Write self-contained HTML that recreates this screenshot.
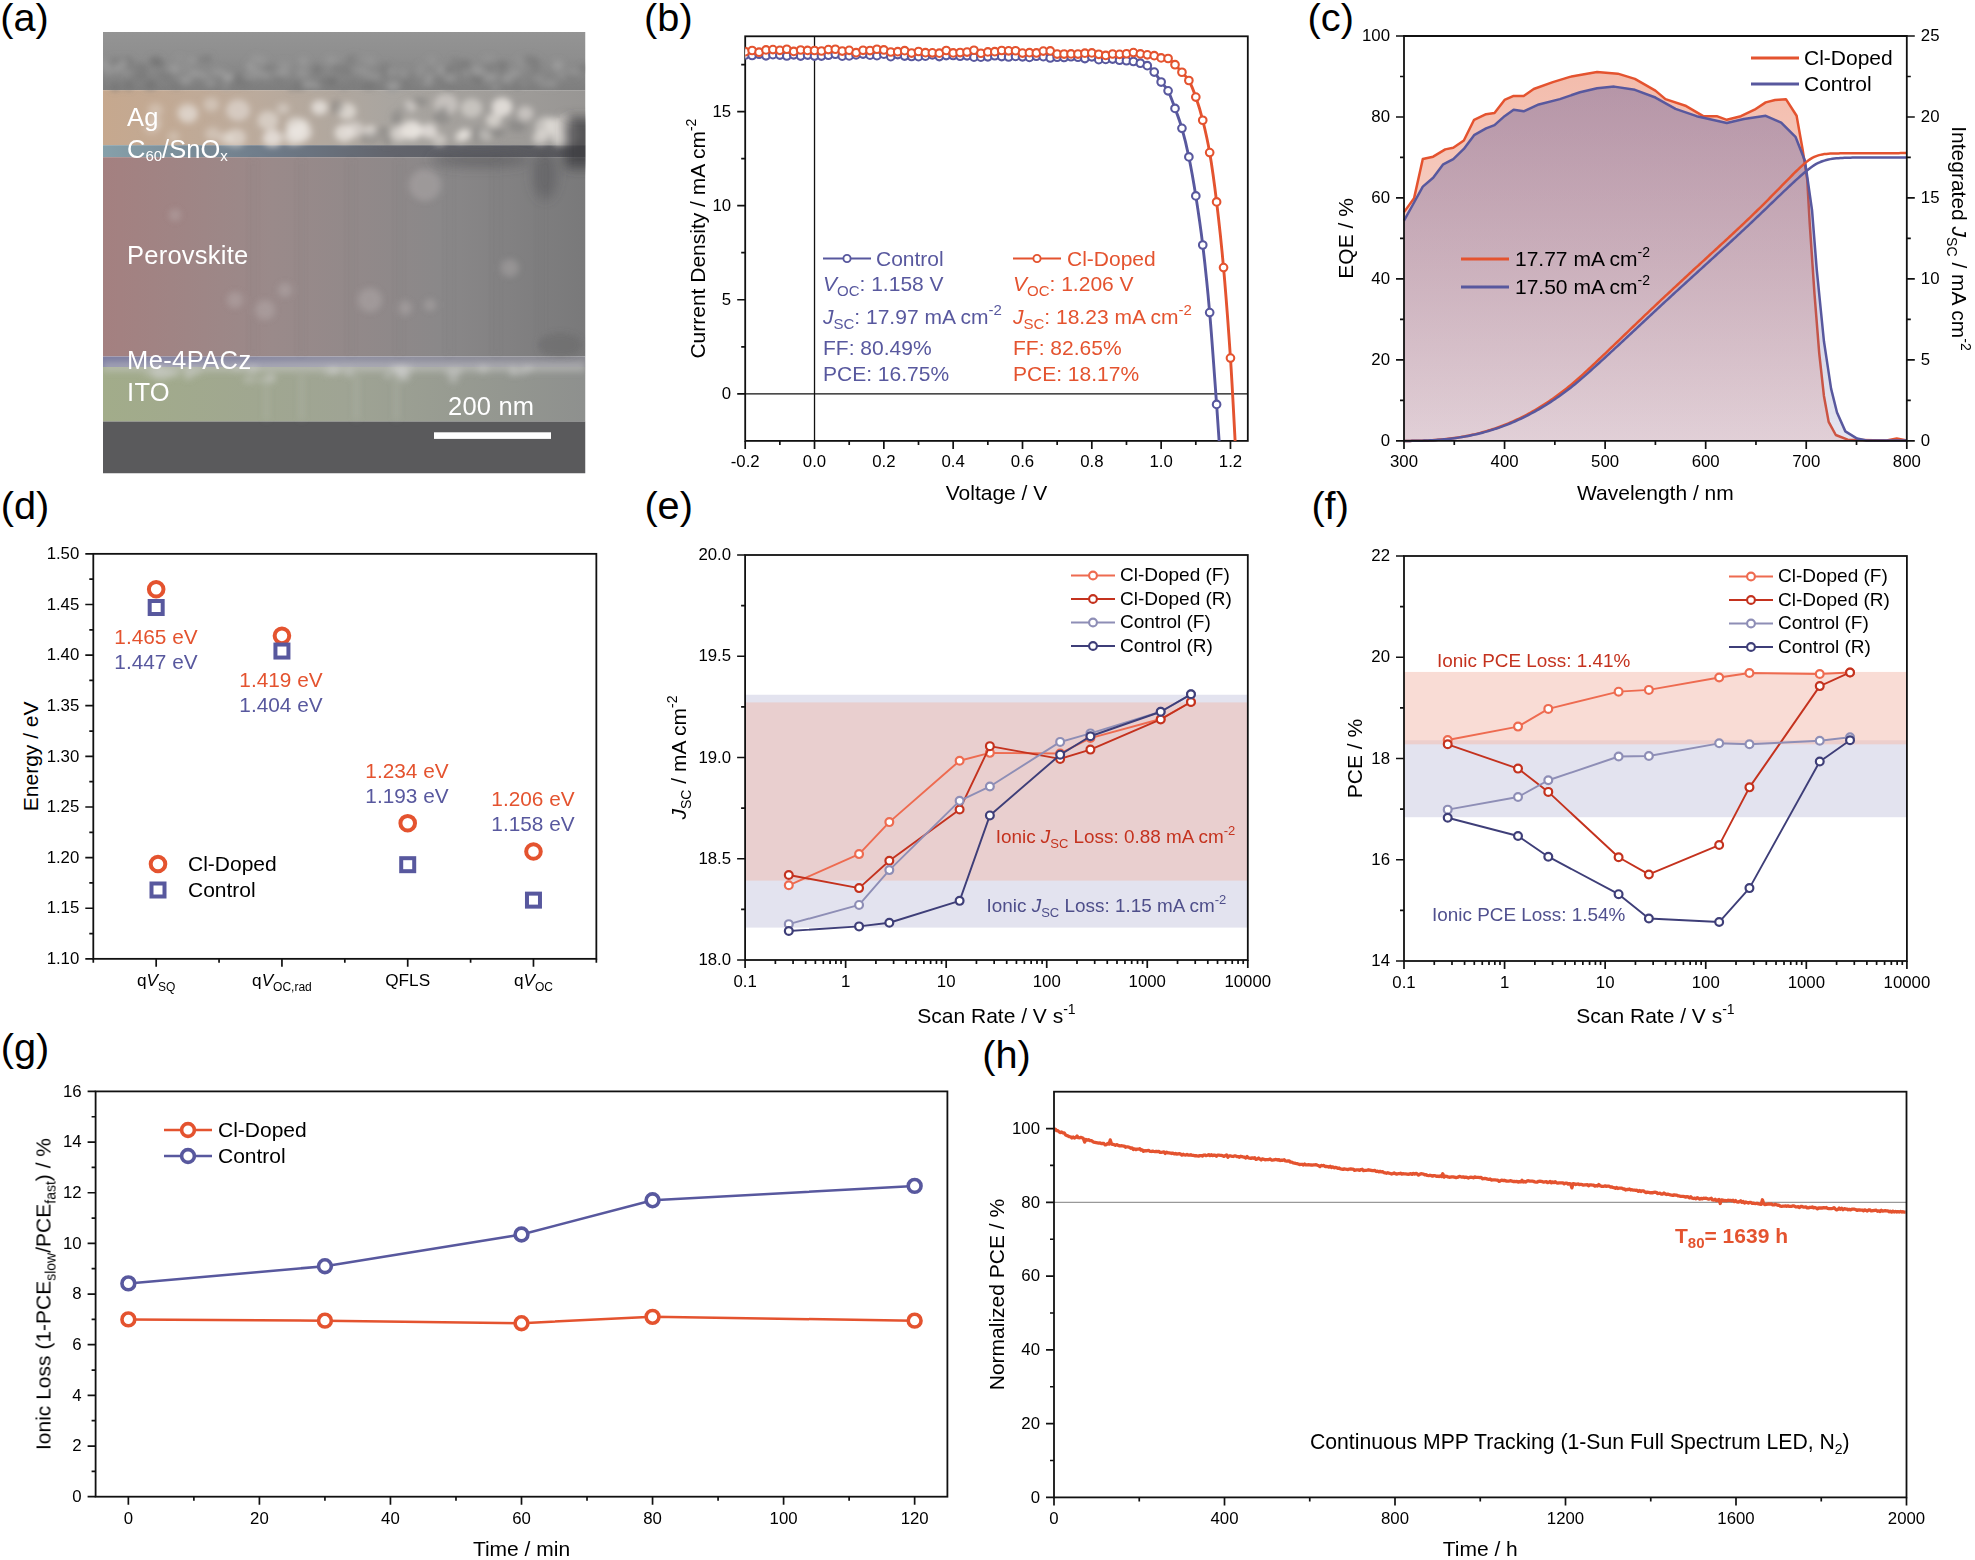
<!DOCTYPE html><html><head><meta charset="utf-8"><style>html,body{margin:0;padding:0;background:#fff;overflow:hidden}svg{display:block}</style></head><body><svg width="1975" height="1560" viewBox="0 0 1975 1560" font-family='"Liberation Sans", sans-serif'>
<rect width="1975" height="1560" fill="#fff"/>
<text x="0.3" y="31.1" font-size="39.7" text-anchor="start" fill="#000" >(a)</text>
<text x="644.1" y="31.1" font-size="39.7" text-anchor="start" fill="#000" >(b)</text>
<text x="1307.6" y="31.1" font-size="39.7" text-anchor="start" fill="#000" >(c)</text>
<text x="0.7" y="519" font-size="39.7" text-anchor="start" fill="#000" >(d)</text>
<text x="644.4" y="519" font-size="39.7" text-anchor="start" fill="#000" >(e)</text>
<text x="1311.4" y="519" font-size="39.7" text-anchor="start" fill="#000" >(f)</text>
<text x="0.7" y="1060.5" font-size="39.7" text-anchor="start" fill="#000" >(g)</text>
<text x="982.2" y="1067.6" font-size="39.7" text-anchor="start" fill="#000" >(h)</text>
<defs><linearGradient id="gTop" x1="0" y1="0" x2="0" y2="1"><stop offset="0" stop-color="#949494"/><stop offset="0.45" stop-color="#8e8e8e"/><stop offset="1" stop-color="#7e7e7e"/></linearGradient><linearGradient id="gAg" x1="0" x2="1"><stop offset="0" stop-color="#c6a88e"/><stop offset="0.3" stop-color="#bcab9c"/><stop offset="0.6" stop-color="#a9a5a0"/><stop offset="1" stop-color="#989694"/></linearGradient><linearGradient id="gC60" x1="0" x2="1"><stop offset="0" stop-color="#86a0aa"/><stop offset="0.35" stop-color="#6e7a88"/><stop offset="0.6" stop-color="#62646c"/><stop offset="1" stop-color="#58585c"/></linearGradient><linearGradient id="gPero" x1="0" x2="1"><stop offset="0" stop-color="#a48080"/><stop offset="0.35" stop-color="#9a8a8a"/><stop offset="0.7" stop-color="#8a8889"/><stop offset="1" stop-color="#79797a"/></linearGradient><linearGradient id="gMe" x1="0" x2="1"><stop offset="0" stop-color="#7e7ea2"/><stop offset="0.5" stop-color="#9090a2"/><stop offset="1" stop-color="#8a8a90"/></linearGradient><linearGradient id="gITO" x1="0" x2="1"><stop offset="0" stop-color="#a2ac8a"/><stop offset="0.5" stop-color="#9fa494"/><stop offset="1" stop-color="#8e908e"/></linearGradient><filter id="blur3" x="-20%" y="-20%" width="140%" height="140%"><feGaussianBlur stdDeviation="3"/></filter><filter id="blur6" x="-20%" y="-20%" width="140%" height="140%"><feGaussianBlur stdDeviation="6"/></filter><clipPath id="clipA"><rect x="103" y="32" width="482.5" height="441.5"/></clipPath></defs>
<g clip-path="url(#clipA)">
<rect x="103" y="32" width="482.5" height="58.2" fill="url(#gTop)"/>
<rect x="103" y="90.2" width="482.5" height="55" fill="url(#gAg)"/>
<rect x="103" y="145.2" width="482.5" height="12" fill="url(#gC60)"/>
<rect x="103" y="157.2" width="482.5" height="199.3" fill="url(#gPero)"/>
<rect x="103" y="356.5" width="482.5" height="10.5" fill="url(#gMe)"/>
<rect x="103" y="367" width="482.5" height="54.5" fill="url(#gITO)"/>
<rect x="103" y="421.5" width="482.5" height="52" fill="#5a5a5c"/>
<g filter="url(#blur3)"><ellipse cx="217.8" cy="74.3" rx="5.4" ry="4.0" fill="#7a7a7a" opacity="0.55"/><ellipse cx="395.2" cy="85.3" rx="4.2" ry="5.5" fill="#7a7a7a" opacity="0.55"/><ellipse cx="329.9" cy="83.1" rx="7.3" ry="2.8" fill="#7a7a7a" opacity="0.55"/><ellipse cx="176.2" cy="85.8" rx="6.4" ry="2.2" fill="#6e6e6e" opacity="0.55"/><ellipse cx="468.8" cy="75.7" rx="7.1" ry="2.9" fill="#6e6e6e" opacity="0.55"/><ellipse cx="390.0" cy="85.6" rx="5.0" ry="4.8" fill="#747474" opacity="0.55"/><ellipse cx="317.5" cy="86.1" rx="3.2" ry="3.7" fill="#a4a4a4" opacity="0.55"/><ellipse cx="227.5" cy="78.2" rx="5.1" ry="4.9" fill="#aaaaaa" opacity="0.55"/><ellipse cx="380.0" cy="74.0" rx="7.5" ry="4.4" fill="#6e6e6e" opacity="0.55"/><ellipse cx="551.2" cy="83.7" rx="6.5" ry="4.4" fill="#9e9e9e" opacity="0.55"/><ellipse cx="260.5" cy="74.3" rx="6.6" ry="2.7" fill="#a4a4a4" opacity="0.55"/><ellipse cx="504.3" cy="75.2" rx="5.4" ry="4.2" fill="#6e6e6e" opacity="0.55"/><ellipse cx="336.3" cy="68.3" rx="3.1" ry="3.5" fill="#6e6e6e" opacity="0.55"/><ellipse cx="303.3" cy="61.6" rx="4.9" ry="4.1" fill="#a4a4a4" opacity="0.55"/><ellipse cx="368.8" cy="85.7" rx="8.0" ry="3.1" fill="#6e6e6e" opacity="0.55"/><ellipse cx="140.1" cy="76.0" rx="7.9" ry="3.0" fill="#6e6e6e" opacity="0.55"/><ellipse cx="230.1" cy="78.7" rx="4.6" ry="5.4" fill="#aaaaaa" opacity="0.55"/><ellipse cx="535.6" cy="69.3" rx="4.9" ry="5.0" fill="#7a7a7a" opacity="0.55"/><ellipse cx="431.6" cy="61.1" rx="4.4" ry="4.2" fill="#9e9e9e" opacity="0.55"/><ellipse cx="448.3" cy="86.1" rx="5.6" ry="3.9" fill="#747474" opacity="0.55"/><ellipse cx="108.5" cy="70.5" rx="4.9" ry="4.1" fill="#a4a4a4" opacity="0.55"/><ellipse cx="167.3" cy="77.0" rx="6.4" ry="3.2" fill="#747474" opacity="0.55"/><ellipse cx="444.1" cy="80.1" rx="7.8" ry="2.1" fill="#6e6e6e" opacity="0.55"/><ellipse cx="281.1" cy="76.8" rx="4.6" ry="3.3" fill="#7a7a7a" opacity="0.55"/><ellipse cx="253.9" cy="69.1" rx="6.9" ry="2.4" fill="#aaaaaa" opacity="0.55"/><ellipse cx="495.3" cy="87.1" rx="4.6" ry="2.8" fill="#a4a4a4" opacity="0.55"/><ellipse cx="490.8" cy="65.2" rx="6.2" ry="2.3" fill="#747474" opacity="0.55"/><ellipse cx="392.8" cy="86.5" rx="5.2" ry="5.0" fill="#a4a4a4" opacity="0.55"/><ellipse cx="184.7" cy="68.1" rx="5.3" ry="2.8" fill="#9e9e9e" opacity="0.55"/><ellipse cx="161.3" cy="73.9" rx="3.9" ry="3.0" fill="#7a7a7a" opacity="0.55"/><ellipse cx="492.5" cy="77.3" rx="5.9" ry="3.5" fill="#aaaaaa" opacity="0.55"/><ellipse cx="353.1" cy="83.5" rx="5.1" ry="3.5" fill="#7a7a7a" opacity="0.55"/><ellipse cx="300.6" cy="85.6" rx="5.4" ry="4.9" fill="#6e6e6e" opacity="0.55"/><ellipse cx="403.4" cy="73.3" rx="4.1" ry="4.6" fill="#9e9e9e" opacity="0.55"/><ellipse cx="506.7" cy="77.9" rx="5.7" ry="5.1" fill="#aaaaaa" opacity="0.55"/><ellipse cx="518.7" cy="83.7" rx="7.1" ry="2.2" fill="#a4a4a4" opacity="0.55"/><ellipse cx="539.0" cy="78.8" rx="5.9" ry="2.0" fill="#aaaaaa" opacity="0.55"/><ellipse cx="462.6" cy="63.2" rx="3.1" ry="3.9" fill="#7a7a7a" opacity="0.55"/><ellipse cx="128.7" cy="85.4" rx="4.3" ry="5.0" fill="#6e6e6e" opacity="0.55"/><ellipse cx="333.2" cy="81.5" rx="3.6" ry="5.1" fill="#6e6e6e" opacity="0.55"/><ellipse cx="160.5" cy="65.2" rx="7.1" ry="2.0" fill="#6e6e6e" opacity="0.55"/><ellipse cx="406.3" cy="83.9" rx="4.2" ry="4.2" fill="#747474" opacity="0.55"/><ellipse cx="353.7" cy="59.5" rx="7.3" ry="4.7" fill="#6e6e6e" opacity="0.55"/><ellipse cx="125.3" cy="59.5" rx="7.3" ry="2.3" fill="#6e6e6e" opacity="0.55"/><ellipse cx="345.3" cy="67.5" rx="4.9" ry="3.4" fill="#747474" opacity="0.55"/><ellipse cx="249.7" cy="65.9" rx="3.6" ry="3.9" fill="#aaaaaa" opacity="0.55"/><ellipse cx="448.5" cy="69.4" rx="3.2" ry="3.6" fill="#6e6e6e" opacity="0.55"/><ellipse cx="416.8" cy="74.2" rx="6.1" ry="3.5" fill="#a4a4a4" opacity="0.55"/><ellipse cx="282.7" cy="72.9" rx="7.8" ry="3.5" fill="#aaaaaa" opacity="0.55"/><ellipse cx="111.6" cy="64.6" rx="3.4" ry="3.5" fill="#7a7a7a" opacity="0.55"/><ellipse cx="308.5" cy="84.4" rx="7.8" ry="4.0" fill="#aaaaaa" opacity="0.55"/><ellipse cx="522.9" cy="61.6" rx="6.3" ry="5.1" fill="#9e9e9e" opacity="0.55"/><ellipse cx="485.4" cy="78.0" rx="5.7" ry="4.8" fill="#9e9e9e" opacity="0.55"/><ellipse cx="448.8" cy="72.2" rx="3.2" ry="2.3" fill="#747474" opacity="0.55"/><ellipse cx="150.9" cy="84.4" rx="4.7" ry="5.0" fill="#6e6e6e" opacity="0.55"/><ellipse cx="115.3" cy="61.5" rx="7.8" ry="4.0" fill="#7a7a7a" opacity="0.55"/><ellipse cx="488.4" cy="59.1" rx="5.6" ry="2.8" fill="#9e9e9e" opacity="0.55"/><ellipse cx="370.5" cy="61.0" rx="4.6" ry="4.0" fill="#9e9e9e" opacity="0.55"/><ellipse cx="502.5" cy="65.3" rx="5.3" ry="4.5" fill="#6e6e6e" opacity="0.55"/><ellipse cx="557.8" cy="65.6" rx="5.8" ry="5.4" fill="#aaaaaa" opacity="0.55"/><ellipse cx="284.1" cy="65.1" rx="7.8" ry="3.5" fill="#9e9e9e" opacity="0.55"/><ellipse cx="377.3" cy="75.4" rx="5.4" ry="4.3" fill="#9e9e9e" opacity="0.55"/><ellipse cx="536.0" cy="62.5" rx="5.4" ry="4.4" fill="#7a7a7a" opacity="0.55"/><ellipse cx="561.7" cy="75.6" rx="4.3" ry="2.7" fill="#a4a4a4" opacity="0.55"/><ellipse cx="385.6" cy="67.4" rx="5.7" ry="4.7" fill="#7a7a7a" opacity="0.55"/><ellipse cx="426.9" cy="83.7" rx="5.9" ry="2.9" fill="#9e9e9e" opacity="0.55"/><ellipse cx="208.0" cy="58.7" rx="4.0" ry="4.0" fill="#747474" opacity="0.55"/><ellipse cx="218.2" cy="72.5" rx="8.0" ry="3.7" fill="#aaaaaa" opacity="0.55"/><ellipse cx="392.0" cy="72.0" rx="5.8" ry="3.7" fill="#9e9e9e" opacity="0.55"/><ellipse cx="450.7" cy="83.7" rx="7.4" ry="2.2" fill="#7a7a7a" opacity="0.55"/><ellipse cx="542.5" cy="84.7" rx="3.3" ry="2.8" fill="#9e9e9e" opacity="0.55"/><ellipse cx="225.6" cy="84.7" rx="3.9" ry="4.5" fill="#a4a4a4" opacity="0.55"/><ellipse cx="517.3" cy="85.0" rx="4.6" ry="3.5" fill="#6e6e6e" opacity="0.55"/><ellipse cx="454.7" cy="60.6" rx="3.2" ry="3.6" fill="#747474" opacity="0.55"/><ellipse cx="457.2" cy="68.1" rx="5.2" ry="3.7" fill="#747474" opacity="0.55"/><ellipse cx="204.4" cy="75.6" rx="3.6" ry="3.1" fill="#aaaaaa" opacity="0.55"/><ellipse cx="529.2" cy="60.3" rx="7.4" ry="5.2" fill="#747474" opacity="0.55"/><ellipse cx="149.8" cy="86.2" rx="6.8" ry="3.0" fill="#747474" opacity="0.55"/><ellipse cx="429.1" cy="77.6" rx="3.5" ry="5.3" fill="#aaaaaa" opacity="0.55"/><ellipse cx="266.3" cy="75.0" rx="5.5" ry="3.2" fill="#9e9e9e" opacity="0.55"/><ellipse cx="449.5" cy="78.4" rx="6.2" ry="4.6" fill="#a4a4a4" opacity="0.55"/><ellipse cx="175.2" cy="69.1" rx="3.6" ry="5.3" fill="#aaaaaa" opacity="0.55"/><ellipse cx="171.2" cy="67.9" rx="5.1" ry="3.1" fill="#9e9e9e" opacity="0.55"/><ellipse cx="193.2" cy="72.5" rx="3.3" ry="4.5" fill="#9e9e9e" opacity="0.55"/><ellipse cx="467.0" cy="74.3" rx="3.5" ry="2.9" fill="#aaaaaa" opacity="0.55"/><ellipse cx="128.8" cy="62.1" rx="4.2" ry="4.7" fill="#747474" opacity="0.55"/><ellipse cx="273.9" cy="68.0" rx="7.0" ry="2.2" fill="#7a7a7a" opacity="0.55"/><ellipse cx="343.3" cy="87.9" rx="3.5" ry="2.4" fill="#7a7a7a" opacity="0.55"/><ellipse cx="478.9" cy="79.8" rx="5.8" ry="4.3" fill="#6e6e6e" opacity="0.55"/><ellipse cx="291.7" cy="87.5" rx="3.7" ry="3.4" fill="#7a7a7a" opacity="0.55"/><ellipse cx="196.4" cy="73.8" rx="7.3" ry="3.3" fill="#a4a4a4" opacity="0.55"/><ellipse cx="244.4" cy="83.3" rx="7.7" ry="3.3" fill="#747474" opacity="0.55"/><ellipse cx="369.6" cy="75.5" rx="6.4" ry="3.0" fill="#9e9e9e" opacity="0.55"/><ellipse cx="518.0" cy="72.5" rx="6.2" ry="2.4" fill="#9e9e9e" opacity="0.55"/><ellipse cx="467.8" cy="65.0" rx="5.3" ry="2.7" fill="#7a7a7a" opacity="0.55"/><ellipse cx="358.5" cy="59.1" rx="7.7" ry="2.4" fill="#9e9e9e" opacity="0.55"/><ellipse cx="239.7" cy="77.7" rx="7.0" ry="4.2" fill="#747474" opacity="0.55"/><ellipse cx="127.4" cy="68.8" rx="5.5" ry="2.1" fill="#6e6e6e" opacity="0.55"/><ellipse cx="266.9" cy="67.9" rx="3.7" ry="5.0" fill="#7a7a7a" opacity="0.55"/><ellipse cx="393.0" cy="85.8" rx="8.0" ry="5.5" fill="#9e9e9e" opacity="0.55"/><ellipse cx="202.0" cy="59.9" rx="6.8" ry="3.7" fill="#7a7a7a" opacity="0.55"/><ellipse cx="155.7" cy="59.3" rx="6.5" ry="3.4" fill="#6e6e6e" opacity="0.55"/><ellipse cx="331.4" cy="60.0" rx="6.2" ry="3.1" fill="#a4a4a4" opacity="0.55"/><ellipse cx="327.1" cy="80.7" rx="5.3" ry="2.1" fill="#6e6e6e" opacity="0.55"/><ellipse cx="226.8" cy="83.5" rx="6.0" ry="2.8" fill="#747474" opacity="0.55"/><ellipse cx="104.3" cy="64.3" rx="7.3" ry="3.9" fill="#a4a4a4" opacity="0.55"/><ellipse cx="179.8" cy="58.7" rx="3.8" ry="2.1" fill="#9e9e9e" opacity="0.55"/><ellipse cx="156.1" cy="63.0" rx="7.2" ry="3.4" fill="#6e6e6e" opacity="0.55"/><ellipse cx="256.4" cy="59.0" rx="5.0" ry="3.4" fill="#a4a4a4" opacity="0.55"/><ellipse cx="115.9" cy="87.0" rx="4.9" ry="2.7" fill="#6e6e6e" opacity="0.55"/><ellipse cx="263.7" cy="61.5" rx="3.3" ry="4.5" fill="#9e9e9e" opacity="0.55"/><ellipse cx="235.7" cy="81.6" rx="5.4" ry="4.0" fill="#747474" opacity="0.55"/><ellipse cx="117.5" cy="68.1" rx="3.5" ry="4.4" fill="#aaaaaa" opacity="0.55"/><ellipse cx="570.7" cy="75.8" rx="6.4" ry="2.1" fill="#6e6e6e" opacity="0.55"/><ellipse cx="345.7" cy="72.5" rx="7.5" ry="2.7" fill="#7a7a7a" opacity="0.55"/><ellipse cx="572.9" cy="72.3" rx="7.7" ry="2.1" fill="#aaaaaa" opacity="0.55"/><ellipse cx="250.0" cy="76.2" rx="7.7" ry="2.6" fill="#a4a4a4" opacity="0.55"/><ellipse cx="302.3" cy="73.2" rx="6.4" ry="5.2" fill="#9e9e9e" opacity="0.55"/><ellipse cx="187.3" cy="80.2" rx="4.8" ry="2.6" fill="#9e9e9e" opacity="0.55"/><ellipse cx="489.8" cy="71.2" rx="5.4" ry="2.9" fill="#7a7a7a" opacity="0.55"/><ellipse cx="184.9" cy="79.6" rx="6.5" ry="5.3" fill="#9e9e9e" opacity="0.55"/><ellipse cx="123.6" cy="63.2" rx="3.5" ry="4.4" fill="#aaaaaa" opacity="0.55"/><ellipse cx="421.7" cy="67.6" rx="3.3" ry="4.1" fill="#9e9e9e" opacity="0.55"/><ellipse cx="126.2" cy="72.0" rx="4.7" ry="3.3" fill="#9e9e9e" opacity="0.55"/><ellipse cx="137.8" cy="70.0" rx="4.7" ry="3.1" fill="#a4a4a4" opacity="0.55"/><ellipse cx="320.3" cy="82.7" rx="3.2" ry="2.5" fill="#7a7a7a" opacity="0.55"/><ellipse cx="414.0" cy="75.6" rx="4.4" ry="2.7" fill="#6e6e6e" opacity="0.55"/><ellipse cx="513.5" cy="73.5" rx="4.6" ry="5.1" fill="#9e9e9e" opacity="0.55"/><ellipse cx="480.4" cy="72.0" rx="7.1" ry="2.4" fill="#a4a4a4" opacity="0.55"/><ellipse cx="114.6" cy="87.0" rx="3.4" ry="3.6" fill="#747474" opacity="0.55"/><ellipse cx="210.5" cy="82.9" rx="5.4" ry="4.3" fill="#9e9e9e" opacity="0.55"/><ellipse cx="440.5" cy="70.1" rx="4.5" ry="5.3" fill="#a4a4a4" opacity="0.55"/><ellipse cx="317.1" cy="69.4" rx="5.3" ry="4.5" fill="#6e6e6e" opacity="0.55"/><ellipse cx="140.3" cy="68.4" rx="7.6" ry="4.4" fill="#6e6e6e" opacity="0.55"/><ellipse cx="278.9" cy="81.5" rx="4.1" ry="3.2" fill="#7a7a7a" opacity="0.55"/><ellipse cx="583.4" cy="68.1" rx="4.3" ry="3.1" fill="#6e6e6e" opacity="0.55"/><ellipse cx="464.7" cy="64.2" rx="6.1" ry="5.3" fill="#7a7a7a" opacity="0.55"/><ellipse cx="361.5" cy="70.6" rx="7.7" ry="3.7" fill="#9e9e9e" opacity="0.55"/><ellipse cx="476.2" cy="70.2" rx="4.5" ry="5.3" fill="#a4a4a4" opacity="0.55"/><ellipse cx="192.1" cy="60.9" rx="5.5" ry="2.2" fill="#aaaaaa" opacity="0.55"/></g>
<g filter="url(#blur3)"><ellipse cx="411.6" cy="130.2" rx="10.8" ry="9.7" fill="#ece7e2" opacity="0.83"/><ellipse cx="460.8" cy="137.0" rx="6.2" ry="5.6" fill="#ece7e2" opacity="0.64"/><ellipse cx="546.2" cy="126.7" rx="11.4" ry="10.3" fill="#ece7e2" opacity="0.50"/><ellipse cx="347.0" cy="111.4" rx="9.3" ry="8.3" fill="#ece7e2" opacity="0.68"/><ellipse cx="155.5" cy="110.2" rx="7.7" ry="6.9" fill="#ece7e2" opacity="0.33"/><ellipse cx="471.6" cy="108.1" rx="10.8" ry="9.7" fill="#ece7e2" opacity="0.51"/><ellipse cx="409.3" cy="106.8" rx="6.0" ry="5.4" fill="#ece7e2" opacity="0.80"/><ellipse cx="238.0" cy="110.2" rx="11.9" ry="10.7" fill="#ece7e2" opacity="0.53"/><ellipse cx="271.5" cy="138.5" rx="9.2" ry="8.3" fill="#ece7e2" opacity="0.55"/><ellipse cx="236.0" cy="137.8" rx="10.1" ry="9.1" fill="#ece7e2" opacity="0.55"/><ellipse cx="525.4" cy="113.4" rx="8.2" ry="7.4" fill="#ece7e2" opacity="0.52"/><ellipse cx="211.2" cy="104.5" rx="7.8" ry="7.0" fill="#ece7e2" opacity="0.40"/><ellipse cx="151.4" cy="127.8" rx="8.0" ry="7.2" fill="#ece7e2" opacity="0.23"/><ellipse cx="493.8" cy="120.3" rx="7.9" ry="7.1" fill="#ece7e2" opacity="0.64"/><ellipse cx="446.0" cy="104.2" rx="11.9" ry="10.7" fill="#ece7e2" opacity="0.46"/><ellipse cx="464.9" cy="134.1" rx="6.1" ry="5.5" fill="#ece7e2" opacity="0.77"/><ellipse cx="303.8" cy="124.0" rx="6.1" ry="5.4" fill="#ece7e2" opacity="0.40"/><ellipse cx="226.0" cy="138.3" rx="7.2" ry="6.5" fill="#ece7e2" opacity="0.47"/><ellipse cx="540.5" cy="137.8" rx="8.1" ry="7.3" fill="#ece7e2" opacity="0.59"/><ellipse cx="370.4" cy="131.5" rx="6.6" ry="6.0" fill="#ece7e2" opacity="0.75"/><ellipse cx="484.8" cy="134.7" rx="6.2" ry="5.6" fill="#ece7e2" opacity="0.83"/><ellipse cx="188.3" cy="114.9" rx="9.7" ry="8.7" fill="#ece7e2" opacity="0.42"/><ellipse cx="292.8" cy="137.1" rx="9.3" ry="8.3" fill="#ece7e2" opacity="0.48"/><ellipse cx="283.1" cy="108.7" rx="6.5" ry="5.8" fill="#ece7e2" opacity="0.41"/><ellipse cx="439.5" cy="139.9" rx="7.0" ry="6.3" fill="#ece7e2" opacity="0.47"/><ellipse cx="564.4" cy="122.3" rx="8.4" ry="7.6" fill="#ece7e2" opacity="0.55"/><ellipse cx="399.5" cy="133.4" rx="8.7" ry="7.9" fill="#ece7e2" opacity="0.62"/><ellipse cx="173.4" cy="136.8" rx="6.2" ry="5.6" fill="#ece7e2" opacity="0.30"/><ellipse cx="502.1" cy="107.0" rx="10.4" ry="9.4" fill="#ece7e2" opacity="0.83"/><ellipse cx="414.8" cy="131.9" rx="6.6" ry="6.0" fill="#ece7e2" opacity="0.63"/><ellipse cx="212.7" cy="134.1" rx="7.8" ry="7.0" fill="#ece7e2" opacity="0.37"/><ellipse cx="569.7" cy="134.4" rx="11.9" ry="10.7" fill="#ece7e2" opacity="0.63"/><ellipse cx="355.0" cy="129.7" rx="8.9" ry="8.0" fill="#ece7e2" opacity="0.57"/><ellipse cx="319.6" cy="107.6" rx="8.3" ry="7.4" fill="#ece7e2" opacity="0.77"/><ellipse cx="553.1" cy="125.8" rx="9.0" ry="8.1" fill="#ece7e2" opacity="0.59"/><ellipse cx="187.4" cy="112.3" rx="10.7" ry="9.6" fill="#ece7e2" opacity="0.40"/><ellipse cx="301.8" cy="131.9" rx="10.6" ry="9.6" fill="#ece7e2" opacity="0.62"/><ellipse cx="428.9" cy="130.9" rx="8.2" ry="7.4" fill="#ece7e2" opacity="0.74"/><ellipse cx="268.0" cy="120.5" rx="10.6" ry="9.6" fill="#ece7e2" opacity="0.55"/><ellipse cx="273.4" cy="137.9" rx="9.9" ry="8.9" fill="#ece7e2" opacity="0.52"/><ellipse cx="154.9" cy="122.8" rx="7.5" ry="6.8" fill="#ece7e2" opacity="0.29"/><ellipse cx="344.4" cy="133.0" rx="9.9" ry="8.9" fill="#ece7e2" opacity="0.76"/><ellipse cx="296.1" cy="126.5" rx="10.4" ry="9.4" fill="#ece7e2" opacity="0.66"/><ellipse cx="297.0" cy="134.0" rx="11.2" ry="10.1" fill="#ece7e2" opacity="0.61"/><ellipse cx="560.0" cy="138.3" rx="9.1" ry="8.2" fill="#ece7e2" opacity="0.66"/><ellipse cx="369.9" cy="137.6" rx="10.6" ry="6.4" fill="#6e6e6e" opacity="0.35"/><ellipse cx="495.9" cy="132.4" rx="9.4" ry="4.9" fill="#6e6e6e" opacity="0.35"/><ellipse cx="517.3" cy="126.1" rx="9.0" ry="6.1" fill="#6e6e6e" opacity="0.35"/><ellipse cx="479.7" cy="134.9" rx="8.8" ry="7.6" fill="#6e6e6e" opacity="0.35"/><ellipse cx="336.6" cy="107.2" rx="7.6" ry="7.3" fill="#6e6e6e" opacity="0.35"/><ellipse cx="382.6" cy="130.9" rx="8.8" ry="4.2" fill="#6e6e6e" opacity="0.35"/><ellipse cx="443.2" cy="110.2" rx="5.3" ry="4.7" fill="#6e6e6e" opacity="0.35"/><ellipse cx="406.2" cy="108.2" rx="6.2" ry="4.2" fill="#6e6e6e" opacity="0.35"/><ellipse cx="441.7" cy="117.1" rx="8.7" ry="7.0" fill="#6e6e6e" opacity="0.35"/><ellipse cx="387.1" cy="140.6" rx="5.0" ry="6.0" fill="#6e6e6e" opacity="0.35"/><ellipse cx="396.8" cy="118.5" rx="5.7" ry="8.2" fill="#6e6e6e" opacity="0.35"/><ellipse cx="419.7" cy="101.6" rx="8.7" ry="4.5" fill="#6e6e6e" opacity="0.35"/></g>
<g filter="url(#blur6)"><rect x="565" y="118" width="30" height="50" fill="#3a3a3c" opacity="0.75"/><ellipse cx="480" cy="160" rx="50" ry="7" fill="#505054" opacity="0.5"/><ellipse cx="545" cy="175" rx="12" ry="25" fill="#505054" opacity="0.45"/></g>
<g filter="url(#blur3)"><circle cx="370" cy="300" r="12" fill="#c8c0c0" opacity="0.3"/><circle cx="265" cy="310" r="10" fill="#c8c0c0" opacity="0.3"/><circle cx="285" cy="290" r="7" fill="#c8c0c0" opacity="0.3"/><circle cx="510" cy="268" r="9" fill="#c8c0c0" opacity="0.3"/><circle cx="405" cy="308" r="7" fill="#c8c0c0" opacity="0.3"/><circle cx="430" cy="305" r="6" fill="#c8c0c0" opacity="0.3"/><circle cx="175" cy="215" r="6" fill="#c8c0c0" opacity="0.3"/><circle cx="425" cy="185" r="16" fill="#c8c0c0" opacity="0.3"/><circle cx="235" cy="300" r="8" fill="#c8c0c0" opacity="0.3"/><rect x="252" y="160" width="2.5" height="195" fill="#6a6a6c" opacity="0.18"/><rect x="300" y="160" width="2.5" height="195" fill="#6a6a6c" opacity="0.18"/><rect x="350" y="160" width="2.5" height="195" fill="#6a6a6c" opacity="0.18"/><rect x="398" y="160" width="2.5" height="195" fill="#6a6a6c" opacity="0.18"/><rect x="448" y="160" width="2.5" height="195" fill="#6a6a6c" opacity="0.18"/><rect x="495" y="160" width="2.5" height="195" fill="#6a6a6c" opacity="0.18"/><rect x="540" y="160" width="2.5" height="195" fill="#6a6a6c" opacity="0.18"/><ellipse cx="560" cy="345" rx="22" ry="12" fill="#5a5a5c" opacity="0.3"/></g>
<g filter="url(#blur3)"><rect x="103" y="362" width="482" height="10" fill="#cacaca" opacity="0.45"/><ellipse cx="349.1" cy="372.5" rx="4.8" ry="4.6" fill="#d2d2d2" opacity="0.4"/><ellipse cx="152.8" cy="374.0" rx="9.4" ry="2.2" fill="#d2d2d2" opacity="0.4"/><ellipse cx="388.3" cy="375.4" rx="4.2" ry="3.1" fill="#d2d2d2" opacity="0.4"/><ellipse cx="452.5" cy="373.4" rx="8.4" ry="2.5" fill="#d2d2d2" opacity="0.4"/><ellipse cx="252.3" cy="369.3" rx="7.0" ry="4.8" fill="#d2d2d2" opacity="0.4"/><ellipse cx="403.9" cy="377.3" rx="6.3" ry="4.2" fill="#d2d2d2" opacity="0.4"/><ellipse cx="193.7" cy="371.5" rx="8.0" ry="4.2" fill="#d2d2d2" opacity="0.4"/><ellipse cx="331.4" cy="369.1" rx="5.6" ry="2.6" fill="#d2d2d2" opacity="0.4"/><ellipse cx="270.9" cy="377.7" rx="5.2" ry="4.7" fill="#d2d2d2" opacity="0.4"/><ellipse cx="528.1" cy="368.7" rx="6.3" ry="3.5" fill="#d2d2d2" opacity="0.4"/><ellipse cx="160.1" cy="373.1" rx="9.4" ry="2.3" fill="#d2d2d2" opacity="0.4"/><ellipse cx="406.6" cy="369.5" rx="7.5" ry="4.7" fill="#d2d2d2" opacity="0.4"/><ellipse cx="237.3" cy="368.1" rx="4.5" ry="3.6" fill="#d2d2d2" opacity="0.4"/><ellipse cx="157.5" cy="369.0" rx="7.0" ry="4.8" fill="#d2d2d2" opacity="0.4"/><ellipse cx="330.6" cy="372.8" rx="7.8" ry="2.3" fill="#d2d2d2" opacity="0.4"/><ellipse cx="399.3" cy="370.1" rx="7.7" ry="4.9" fill="#d2d2d2" opacity="0.4"/><ellipse cx="173.3" cy="374.7" rx="7.6" ry="2.4" fill="#d2d2d2" opacity="0.4"/><ellipse cx="265.4" cy="379.9" rx="10.0" ry="2.4" fill="#d2d2d2" opacity="0.4"/><ellipse cx="453.4" cy="379.4" rx="5.4" ry="3.8" fill="#d2d2d2" opacity="0.4"/><ellipse cx="168.5" cy="372.4" rx="8.0" ry="3.8" fill="#d2d2d2" opacity="0.4"/><ellipse cx="483.1" cy="369.0" rx="6.1" ry="4.6" fill="#d2d2d2" opacity="0.4"/><ellipse cx="401.2" cy="373.4" rx="6.4" ry="5.0" fill="#d2d2d2" opacity="0.4"/><ellipse cx="397.0" cy="368.2" rx="8.8" ry="3.0" fill="#d2d2d2" opacity="0.4"/><ellipse cx="336.4" cy="370.6" rx="6.7" ry="3.0" fill="#d2d2d2" opacity="0.4"/><ellipse cx="188.2" cy="375.6" rx="4.6" ry="4.4" fill="#d2d2d2" opacity="0.4"/><ellipse cx="160.9" cy="377.4" rx="8.8" ry="3.5" fill="#d2d2d2" opacity="0.4"/><ellipse cx="455.1" cy="371.0" rx="8.4" ry="3.3" fill="#d2d2d2" opacity="0.4"/><ellipse cx="249.3" cy="379.6" rx="6.4" ry="3.1" fill="#d2d2d2" opacity="0.4"/><ellipse cx="519.8" cy="372.4" rx="8.0" ry="2.5" fill="#d2d2d2" opacity="0.4"/><ellipse cx="512.6" cy="371.1" rx="4.3" ry="4.9" fill="#d2d2d2" opacity="0.4"/><rect x="265" y="375" width="3" height="45" fill="#b8bcb0" opacity="0.5"/><rect x="300" y="375" width="3" height="45" fill="#b8bcb0" opacity="0.5"/><rect x="355" y="375" width="3" height="45" fill="#b8bcb0" opacity="0.5"/><rect x="395" y="375" width="3" height="45" fill="#b8bcb0" opacity="0.5"/></g>
</g>
<text x="127" y="125.5" font-size="25.5" fill="#fff" letter-spacing="0.3">Ag</text>
<text x="127" y="158" font-size="25.5" fill="#fff">C<tspan font-size="15" dy="3">60</tspan><tspan dy="-3">/SnO</tspan><tspan font-size="15" dy="3">x</tspan></text>
<text x="127" y="263.5" font-size="25.5" fill="#fff" letter-spacing="0.25">Perovskite</text>
<text x="127" y="369" font-size="25.5" fill="#fff" letter-spacing="0.4">Me-4PACz</text>
<text x="127" y="401" font-size="25.5" fill="#fff" letter-spacing="0.3">ITO</text>
<text x="448" y="415" font-size="25.5" fill="#fff" letter-spacing="0.2">200 nm</text>
<rect x="434" y="432.3" width="117" height="6.6" fill="#fff"/>
<rect x="745.2" y="36.3" width="502.6" height="404.6" fill="none" stroke="#111" stroke-width="1.8"/>
<path d="M814.52 36.3V440.9M745.2 393.85H1247.8" stroke="#111" stroke-width="1.3"/>
<path d="M745.2 440.9v8 M814.52 440.9v8 M883.85 440.9v8 M953.17 440.9v8 M1022.5 440.9v8 M1091.82 440.9v8 M1161.14 440.9v8 M1230.47 440.9v8 M779.86 440.9v4 M849.19 440.9v4 M918.51 440.9v4 M987.83 440.9v4 M1057.16 440.9v4 M1126.48 440.9v4 M1195.81 440.9v4" stroke="#111" stroke-width="1.7" fill="none"/>
<text x="745.2" y="466.9" font-size="16.8" text-anchor="middle" fill="#000" >-0.2</text>
<text x="814.52" y="466.9" font-size="16.8" text-anchor="middle" fill="#000" >0.0</text>
<text x="883.85" y="466.9" font-size="16.8" text-anchor="middle" fill="#000" >0.2</text>
<text x="953.17" y="466.9" font-size="16.8" text-anchor="middle" fill="#000" >0.4</text>
<text x="1022.5" y="466.9" font-size="16.8" text-anchor="middle" fill="#000" >0.6</text>
<text x="1091.82" y="466.9" font-size="16.8" text-anchor="middle" fill="#000" >0.8</text>
<text x="1161.14" y="466.9" font-size="16.8" text-anchor="middle" fill="#000" >1.0</text>
<text x="1230.47" y="466.9" font-size="16.8" text-anchor="middle" fill="#000" >1.2</text>
<path d="M745.2 393.85h-8 M745.2 299.76h-8 M745.2 205.67h-8 M745.2 111.57h-8 M745.2 346.81h-4 M745.2 252.71h-4 M745.2 158.62h-4 M745.2 64.53h-4" stroke="#111" stroke-width="1.7" fill="none"/>
<text x="731.2" y="399.06" font-size="16.8" text-anchor="end" fill="#000" >0</text>
<text x="731.2" y="304.97" font-size="16.8" text-anchor="end" fill="#000" >5</text>
<text x="731.2" y="210.88" font-size="16.8" text-anchor="end" fill="#000" >10</text>
<text x="731.2" y="116.78" font-size="16.8" text-anchor="end" fill="#000" >15</text>
<text x="996.5" y="500" font-size="21" text-anchor="middle" fill="#000" >Voltage / V</text>
<text transform="translate(704.5 238.6) rotate(-90)" font-size="21" text-anchor="middle">Current Density / mA cm<tspan font-size="14" dy="-9">-2</tspan></text>
<clipPath id="clipB"><rect x="745.2" y="36.3" width="502.6" height="404.6"/></clipPath>
<g clip-path="url(#clipB)">
<path d="M745.2,55.02 C746.36,55.1 749.82,55.65 752.13,55.52 C754.44,55.39 756.75,54.19 759.06,54.24 C761.38,54.29 763.69,55.74 766,55.81 C768.31,55.87 770.62,54.75 772.93,54.63 C775.24,54.52 777.55,54.9 779.86,55.12 C782.17,55.35 784.48,56.02 786.79,55.98 C789.11,55.93 791.42,54.81 793.73,54.84 C796.04,54.86 798.35,56.07 800.66,56.12 C802.97,56.16 805.28,55.12 807.59,55.12 C809.9,55.12 812.21,55.95 814.52,56.12 C816.83,56.28 819.15,56.25 821.46,56.11 C823.77,55.96 826.08,55.58 828.39,55.27 C830.7,54.96 833.01,54.11 835.32,54.25 C837.63,54.4 839.94,55.87 842.25,56.15 C844.56,56.43 846.88,56.14 849.19,55.93 C851.5,55.72 853.81,55.21 856.12,54.91 C858.43,54.6 860.74,54.07 863.05,54.11 C865.36,54.14 867.67,54.87 869.98,55.13 C872.29,55.38 874.61,55.8 876.92,55.64 C879.23,55.48 881.54,53.99 883.85,54.16 C886.16,54.33 888.47,56.59 890.78,56.65 C893.09,56.72 895.4,54.65 897.71,54.56 C900.02,54.46 902.33,55.77 904.65,56.1 C906.96,56.43 909.27,56.43 911.58,56.52 C913.89,56.61 916.2,56.69 918.51,56.64 C920.82,56.58 923.13,56.47 925.44,56.18 C927.75,55.88 930.06,54.81 932.38,54.88 C934.69,54.95 937,56.48 939.31,56.6 C941.62,56.72 943.93,55.77 946.24,55.59 C948.55,55.4 950.86,55.37 953.17,55.48 C955.48,55.58 957.79,56.17 960.1,56.22 C962.42,56.28 964.73,55.65 967.04,55.8 C969.35,55.95 971.66,56.9 973.97,57.13 C976.28,57.35 978.59,57.23 980.9,57.18 C983.21,57.13 985.52,57.08 987.83,56.83 C990.15,56.59 992.46,55.77 994.77,55.72 C997.08,55.67 999.39,56.32 1001.7,56.53 C1004.01,56.73 1006.32,56.99 1008.63,56.96 C1010.94,56.94 1013.25,56.4 1015.56,56.39 C1017.87,56.37 1020.19,56.7 1022.5,56.87 C1024.81,57.04 1027.12,57.52 1029.43,57.42 C1031.74,57.31 1034.05,56.38 1036.36,56.25 C1038.67,56.12 1040.98,56.35 1043.29,56.64 C1045.6,56.93 1047.92,57.88 1050.23,57.98 C1052.54,58.08 1054.85,57.32 1057.16,57.24 C1059.47,57.17 1061.78,57.6 1064.09,57.51 C1066.4,57.43 1068.71,56.77 1071.02,56.73 C1073.33,56.68 1075.65,56.95 1077.96,57.25 C1080.27,57.55 1082.58,58.61 1084.89,58.55 C1087.2,58.49 1089.51,56.68 1091.82,56.86 C1094.13,57.05 1096.44,59.24 1098.75,59.66 C1101.06,60.09 1103.37,59.5 1105.69,59.4 C1108,59.29 1110.31,58.89 1112.62,59.03 C1114.93,59.17 1117.24,59.95 1119.55,60.24 C1121.86,60.53 1124.17,60.55 1126.48,60.76 C1128.79,60.98 1131.1,61.11 1133.42,61.52 C1135.73,61.92 1138.04,62.52 1140.35,63.21 C1142.66,63.9 1144.97,64.18 1147.28,65.66 C1149.59,67.13 1151.9,69.33 1154.21,72.06 C1156.52,74.78 1158.83,78.89 1161.14,82.03 C1163.46,85.17 1165.77,86.48 1168.08,90.87 C1170.39,95.26 1172.7,102.13 1175.01,108.38 C1177.32,114.62 1179.63,120.23 1181.94,128.32 C1184.25,136.41 1186.56,145.67 1188.87,156.93 C1191.19,168.19 1193.5,181.2 1195.81,195.88 C1198.12,210.56 1200.43,225.55 1202.74,245 C1205.05,264.44 1207.36,285.99 1209.67,312.56 C1211.98,339.12 1214.99,382.37 1216.6,404.39 C1218.22,426.41 1218.91,437.95 1219.38,444.66" fill="none" stroke="#58589E" stroke-width="2.9" stroke-linejoin="round" />
<circle cx="745.2" cy="55.02" r="3.8" fill="#fff" stroke="#58589E" stroke-width="2.1"/>
<circle cx="752.13" cy="55.52" r="3.8" fill="#fff" stroke="#58589E" stroke-width="2.1"/>
<circle cx="759.06" cy="54.24" r="3.8" fill="#fff" stroke="#58589E" stroke-width="2.1"/>
<circle cx="766" cy="55.81" r="3.8" fill="#fff" stroke="#58589E" stroke-width="2.1"/>
<circle cx="772.93" cy="54.63" r="3.8" fill="#fff" stroke="#58589E" stroke-width="2.1"/>
<circle cx="779.86" cy="55.12" r="3.8" fill="#fff" stroke="#58589E" stroke-width="2.1"/>
<circle cx="786.79" cy="55.98" r="3.8" fill="#fff" stroke="#58589E" stroke-width="2.1"/>
<circle cx="793.73" cy="54.84" r="3.8" fill="#fff" stroke="#58589E" stroke-width="2.1"/>
<circle cx="800.66" cy="56.12" r="3.8" fill="#fff" stroke="#58589E" stroke-width="2.1"/>
<circle cx="807.59" cy="55.12" r="3.8" fill="#fff" stroke="#58589E" stroke-width="2.1"/>
<circle cx="814.52" cy="56.12" r="3.8" fill="#fff" stroke="#58589E" stroke-width="2.1"/>
<circle cx="821.46" cy="56.11" r="3.8" fill="#fff" stroke="#58589E" stroke-width="2.1"/>
<circle cx="828.39" cy="55.27" r="3.8" fill="#fff" stroke="#58589E" stroke-width="2.1"/>
<circle cx="835.32" cy="54.25" r="3.8" fill="#fff" stroke="#58589E" stroke-width="2.1"/>
<circle cx="842.25" cy="56.15" r="3.8" fill="#fff" stroke="#58589E" stroke-width="2.1"/>
<circle cx="849.19" cy="55.93" r="3.8" fill="#fff" stroke="#58589E" stroke-width="2.1"/>
<circle cx="856.12" cy="54.91" r="3.8" fill="#fff" stroke="#58589E" stroke-width="2.1"/>
<circle cx="863.05" cy="54.11" r="3.8" fill="#fff" stroke="#58589E" stroke-width="2.1"/>
<circle cx="869.98" cy="55.13" r="3.8" fill="#fff" stroke="#58589E" stroke-width="2.1"/>
<circle cx="876.92" cy="55.64" r="3.8" fill="#fff" stroke="#58589E" stroke-width="2.1"/>
<circle cx="883.85" cy="54.16" r="3.8" fill="#fff" stroke="#58589E" stroke-width="2.1"/>
<circle cx="890.78" cy="56.65" r="3.8" fill="#fff" stroke="#58589E" stroke-width="2.1"/>
<circle cx="897.71" cy="54.56" r="3.8" fill="#fff" stroke="#58589E" stroke-width="2.1"/>
<circle cx="904.65" cy="56.1" r="3.8" fill="#fff" stroke="#58589E" stroke-width="2.1"/>
<circle cx="911.58" cy="56.52" r="3.8" fill="#fff" stroke="#58589E" stroke-width="2.1"/>
<circle cx="918.51" cy="56.64" r="3.8" fill="#fff" stroke="#58589E" stroke-width="2.1"/>
<circle cx="925.44" cy="56.18" r="3.8" fill="#fff" stroke="#58589E" stroke-width="2.1"/>
<circle cx="932.38" cy="54.88" r="3.8" fill="#fff" stroke="#58589E" stroke-width="2.1"/>
<circle cx="939.31" cy="56.6" r="3.8" fill="#fff" stroke="#58589E" stroke-width="2.1"/>
<circle cx="946.24" cy="55.59" r="3.8" fill="#fff" stroke="#58589E" stroke-width="2.1"/>
<circle cx="953.17" cy="55.48" r="3.8" fill="#fff" stroke="#58589E" stroke-width="2.1"/>
<circle cx="960.1" cy="56.22" r="3.8" fill="#fff" stroke="#58589E" stroke-width="2.1"/>
<circle cx="967.04" cy="55.8" r="3.8" fill="#fff" stroke="#58589E" stroke-width="2.1"/>
<circle cx="973.97" cy="57.13" r="3.8" fill="#fff" stroke="#58589E" stroke-width="2.1"/>
<circle cx="980.9" cy="57.18" r="3.8" fill="#fff" stroke="#58589E" stroke-width="2.1"/>
<circle cx="987.83" cy="56.83" r="3.8" fill="#fff" stroke="#58589E" stroke-width="2.1"/>
<circle cx="994.77" cy="55.72" r="3.8" fill="#fff" stroke="#58589E" stroke-width="2.1"/>
<circle cx="1001.7" cy="56.53" r="3.8" fill="#fff" stroke="#58589E" stroke-width="2.1"/>
<circle cx="1008.63" cy="56.96" r="3.8" fill="#fff" stroke="#58589E" stroke-width="2.1"/>
<circle cx="1015.56" cy="56.39" r="3.8" fill="#fff" stroke="#58589E" stroke-width="2.1"/>
<circle cx="1022.5" cy="56.87" r="3.8" fill="#fff" stroke="#58589E" stroke-width="2.1"/>
<circle cx="1029.43" cy="57.42" r="3.8" fill="#fff" stroke="#58589E" stroke-width="2.1"/>
<circle cx="1036.36" cy="56.25" r="3.8" fill="#fff" stroke="#58589E" stroke-width="2.1"/>
<circle cx="1043.29" cy="56.64" r="3.8" fill="#fff" stroke="#58589E" stroke-width="2.1"/>
<circle cx="1050.23" cy="57.98" r="3.8" fill="#fff" stroke="#58589E" stroke-width="2.1"/>
<circle cx="1057.16" cy="57.24" r="3.8" fill="#fff" stroke="#58589E" stroke-width="2.1"/>
<circle cx="1064.09" cy="57.51" r="3.8" fill="#fff" stroke="#58589E" stroke-width="2.1"/>
<circle cx="1071.02" cy="56.73" r="3.8" fill="#fff" stroke="#58589E" stroke-width="2.1"/>
<circle cx="1077.96" cy="57.25" r="3.8" fill="#fff" stroke="#58589E" stroke-width="2.1"/>
<circle cx="1084.89" cy="58.55" r="3.8" fill="#fff" stroke="#58589E" stroke-width="2.1"/>
<circle cx="1091.82" cy="56.86" r="3.8" fill="#fff" stroke="#58589E" stroke-width="2.1"/>
<circle cx="1098.75" cy="59.66" r="3.8" fill="#fff" stroke="#58589E" stroke-width="2.1"/>
<circle cx="1105.69" cy="59.4" r="3.8" fill="#fff" stroke="#58589E" stroke-width="2.1"/>
<circle cx="1112.62" cy="59.03" r="3.8" fill="#fff" stroke="#58589E" stroke-width="2.1"/>
<circle cx="1119.55" cy="60.24" r="3.8" fill="#fff" stroke="#58589E" stroke-width="2.1"/>
<circle cx="1126.48" cy="60.76" r="3.8" fill="#fff" stroke="#58589E" stroke-width="2.1"/>
<circle cx="1133.42" cy="61.52" r="3.8" fill="#fff" stroke="#58589E" stroke-width="2.1"/>
<circle cx="1140.35" cy="63.21" r="3.8" fill="#fff" stroke="#58589E" stroke-width="2.1"/>
<circle cx="1147.28" cy="65.66" r="3.8" fill="#fff" stroke="#58589E" stroke-width="2.1"/>
<circle cx="1154.21" cy="72.06" r="3.8" fill="#fff" stroke="#58589E" stroke-width="2.1"/>
<circle cx="1161.14" cy="82.03" r="3.8" fill="#fff" stroke="#58589E" stroke-width="2.1"/>
<circle cx="1168.08" cy="90.87" r="3.8" fill="#fff" stroke="#58589E" stroke-width="2.1"/>
<circle cx="1175.01" cy="108.38" r="3.8" fill="#fff" stroke="#58589E" stroke-width="2.1"/>
<circle cx="1181.94" cy="128.32" r="3.8" fill="#fff" stroke="#58589E" stroke-width="2.1"/>
<circle cx="1188.87" cy="156.93" r="3.8" fill="#fff" stroke="#58589E" stroke-width="2.1"/>
<circle cx="1195.81" cy="195.88" r="3.8" fill="#fff" stroke="#58589E" stroke-width="2.1"/>
<circle cx="1202.74" cy="245" r="3.8" fill="#fff" stroke="#58589E" stroke-width="2.1"/>
<circle cx="1209.67" cy="312.56" r="3.8" fill="#fff" stroke="#58589E" stroke-width="2.1"/>
<circle cx="1216.6" cy="404.39" r="3.8" fill="#fff" stroke="#58589E" stroke-width="2.1"/>
<path d="M745.2,51.72 C746.36,51.52 749.82,50.41 752.13,50.49 C754.44,50.58 756.75,52.32 759.06,52.22 C761.38,52.12 763.69,50.34 766,49.89 C768.31,49.45 770.62,49.5 772.93,49.57 C775.24,49.64 777.55,50.38 779.86,50.33 C782.17,50.27 784.48,49.05 786.79,49.23 C789.11,49.4 791.42,51.25 793.73,51.38 C796.04,51.5 798.35,50.14 800.66,49.98 C802.97,49.82 805.28,50.31 807.59,50.4 C809.9,50.48 812.21,50.39 814.52,50.49 C816.83,50.59 819.15,51.14 821.46,50.99 C823.77,50.84 826.08,49.88 828.39,49.59 C830.7,49.29 833.01,48.99 835.32,49.23 C837.63,49.47 839.94,50.85 842.25,51.04 C844.56,51.23 846.88,50.09 849.19,50.36 C851.5,50.63 853.81,52.68 856.12,52.67 C858.43,52.66 860.74,50.65 863.05,50.3 C865.36,49.94 867.67,50.71 869.98,50.54 C872.29,50.37 874.61,49.37 876.92,49.27 C879.23,49.18 881.54,49.5 883.85,49.96 C886.16,50.41 888.47,51.73 890.78,52.02 C893.09,52.3 895.4,51.9 897.71,51.67 C900.02,51.44 902.33,50.4 904.65,50.64 C906.96,50.89 909.27,52.97 911.58,53.11 C913.89,53.26 916.2,51.58 918.51,51.5 C920.82,51.42 923.13,52.41 925.44,52.64 C927.75,52.87 930.06,52.79 932.38,52.87 C934.69,52.95 937,53.52 939.31,53.13 C941.62,52.73 943.93,50.53 946.24,50.5 C948.55,50.46 950.86,52.6 953.17,52.94 C955.48,53.28 957.79,52.68 960.1,52.53 C962.42,52.38 964.73,52.41 967.04,52.03 C969.35,51.65 971.66,50.05 973.97,50.26 C976.28,50.47 978.59,52.99 980.9,53.27 C983.21,53.55 985.52,52.19 987.83,51.92 C990.15,51.65 992.46,51.88 994.77,51.65 C997.08,51.41 999.39,50.62 1001.7,50.49 C1004.01,50.35 1006.32,50.79 1008.63,50.83 C1010.94,50.88 1013.25,50.39 1015.56,50.76 C1017.87,51.14 1020.19,52.75 1022.5,53.07 C1024.81,53.38 1027.12,52.67 1029.43,52.65 C1031.74,52.64 1034.05,53.23 1036.36,52.97 C1038.67,52.7 1040.98,51.43 1043.29,51.09 C1045.6,50.75 1047.92,50.42 1050.23,50.91 C1052.54,51.41 1054.85,53.53 1057.16,54.05 C1059.47,54.57 1061.78,54.07 1064.09,54.05 C1066.4,54.04 1068.71,53.95 1071.02,53.94 C1073.33,53.94 1075.65,54.16 1077.96,54.04 C1080.27,53.91 1082.58,53.38 1084.89,53.19 C1087.2,53 1089.51,52.72 1091.82,52.9 C1094.13,53.08 1096.44,53.86 1098.75,54.28 C1101.06,54.7 1103.37,55.45 1105.69,55.4 C1108,55.36 1110.31,54.17 1112.62,53.99 C1114.93,53.81 1117.24,54.37 1119.55,54.33 C1121.86,54.29 1124.17,54.03 1126.48,53.74 C1128.79,53.45 1131.1,52.57 1133.42,52.6 C1135.73,52.62 1138.04,53.52 1140.35,53.9 C1142.66,54.28 1144.97,54.57 1147.28,54.87 C1149.59,55.17 1151.9,55.17 1154.21,55.68 C1156.52,56.19 1158.83,57.47 1161.14,57.94 C1163.46,58.41 1165.77,57.38 1168.08,58.51 C1170.39,59.64 1172.7,62.43 1175.01,64.72 C1177.32,67.01 1179.63,69.61 1181.94,72.24 C1184.25,74.88 1186.56,76.38 1188.87,80.52 C1191.19,84.66 1193.5,90.47 1195.81,97.08 C1198.12,103.7 1200.43,110.98 1202.74,120.23 C1205.05,129.48 1207.36,138.99 1209.67,152.6 C1211.98,166.21 1214.29,182.74 1216.6,201.9 C1218.91,221.07 1221.23,241.55 1223.54,267.58 C1225.85,293.61 1228.5,328.58 1230.47,358.1 C1232.43,387.61 1234.51,430.24 1235.32,444.66" fill="none" stroke="#E4532F" stroke-width="2.9" stroke-linejoin="round" />
<circle cx="745.2" cy="51.72" r="3.8" fill="#fff" stroke="#E4532F" stroke-width="2.1"/>
<circle cx="752.13" cy="50.49" r="3.8" fill="#fff" stroke="#E4532F" stroke-width="2.1"/>
<circle cx="759.06" cy="52.22" r="3.8" fill="#fff" stroke="#E4532F" stroke-width="2.1"/>
<circle cx="766" cy="49.89" r="3.8" fill="#fff" stroke="#E4532F" stroke-width="2.1"/>
<circle cx="772.93" cy="49.57" r="3.8" fill="#fff" stroke="#E4532F" stroke-width="2.1"/>
<circle cx="779.86" cy="50.33" r="3.8" fill="#fff" stroke="#E4532F" stroke-width="2.1"/>
<circle cx="786.79" cy="49.23" r="3.8" fill="#fff" stroke="#E4532F" stroke-width="2.1"/>
<circle cx="793.73" cy="51.38" r="3.8" fill="#fff" stroke="#E4532F" stroke-width="2.1"/>
<circle cx="800.66" cy="49.98" r="3.8" fill="#fff" stroke="#E4532F" stroke-width="2.1"/>
<circle cx="807.59" cy="50.4" r="3.8" fill="#fff" stroke="#E4532F" stroke-width="2.1"/>
<circle cx="814.52" cy="50.49" r="3.8" fill="#fff" stroke="#E4532F" stroke-width="2.1"/>
<circle cx="821.46" cy="50.99" r="3.8" fill="#fff" stroke="#E4532F" stroke-width="2.1"/>
<circle cx="828.39" cy="49.59" r="3.8" fill="#fff" stroke="#E4532F" stroke-width="2.1"/>
<circle cx="835.32" cy="49.23" r="3.8" fill="#fff" stroke="#E4532F" stroke-width="2.1"/>
<circle cx="842.25" cy="51.04" r="3.8" fill="#fff" stroke="#E4532F" stroke-width="2.1"/>
<circle cx="849.19" cy="50.36" r="3.8" fill="#fff" stroke="#E4532F" stroke-width="2.1"/>
<circle cx="856.12" cy="52.67" r="3.8" fill="#fff" stroke="#E4532F" stroke-width="2.1"/>
<circle cx="863.05" cy="50.3" r="3.8" fill="#fff" stroke="#E4532F" stroke-width="2.1"/>
<circle cx="869.98" cy="50.54" r="3.8" fill="#fff" stroke="#E4532F" stroke-width="2.1"/>
<circle cx="876.92" cy="49.27" r="3.8" fill="#fff" stroke="#E4532F" stroke-width="2.1"/>
<circle cx="883.85" cy="49.96" r="3.8" fill="#fff" stroke="#E4532F" stroke-width="2.1"/>
<circle cx="890.78" cy="52.02" r="3.8" fill="#fff" stroke="#E4532F" stroke-width="2.1"/>
<circle cx="897.71" cy="51.67" r="3.8" fill="#fff" stroke="#E4532F" stroke-width="2.1"/>
<circle cx="904.65" cy="50.64" r="3.8" fill="#fff" stroke="#E4532F" stroke-width="2.1"/>
<circle cx="911.58" cy="53.11" r="3.8" fill="#fff" stroke="#E4532F" stroke-width="2.1"/>
<circle cx="918.51" cy="51.5" r="3.8" fill="#fff" stroke="#E4532F" stroke-width="2.1"/>
<circle cx="925.44" cy="52.64" r="3.8" fill="#fff" stroke="#E4532F" stroke-width="2.1"/>
<circle cx="932.38" cy="52.87" r="3.8" fill="#fff" stroke="#E4532F" stroke-width="2.1"/>
<circle cx="939.31" cy="53.13" r="3.8" fill="#fff" stroke="#E4532F" stroke-width="2.1"/>
<circle cx="946.24" cy="50.5" r="3.8" fill="#fff" stroke="#E4532F" stroke-width="2.1"/>
<circle cx="953.17" cy="52.94" r="3.8" fill="#fff" stroke="#E4532F" stroke-width="2.1"/>
<circle cx="960.1" cy="52.53" r="3.8" fill="#fff" stroke="#E4532F" stroke-width="2.1"/>
<circle cx="967.04" cy="52.03" r="3.8" fill="#fff" stroke="#E4532F" stroke-width="2.1"/>
<circle cx="973.97" cy="50.26" r="3.8" fill="#fff" stroke="#E4532F" stroke-width="2.1"/>
<circle cx="980.9" cy="53.27" r="3.8" fill="#fff" stroke="#E4532F" stroke-width="2.1"/>
<circle cx="987.83" cy="51.92" r="3.8" fill="#fff" stroke="#E4532F" stroke-width="2.1"/>
<circle cx="994.77" cy="51.65" r="3.8" fill="#fff" stroke="#E4532F" stroke-width="2.1"/>
<circle cx="1001.7" cy="50.49" r="3.8" fill="#fff" stroke="#E4532F" stroke-width="2.1"/>
<circle cx="1008.63" cy="50.83" r="3.8" fill="#fff" stroke="#E4532F" stroke-width="2.1"/>
<circle cx="1015.56" cy="50.76" r="3.8" fill="#fff" stroke="#E4532F" stroke-width="2.1"/>
<circle cx="1022.5" cy="53.07" r="3.8" fill="#fff" stroke="#E4532F" stroke-width="2.1"/>
<circle cx="1029.43" cy="52.65" r="3.8" fill="#fff" stroke="#E4532F" stroke-width="2.1"/>
<circle cx="1036.36" cy="52.97" r="3.8" fill="#fff" stroke="#E4532F" stroke-width="2.1"/>
<circle cx="1043.29" cy="51.09" r="3.8" fill="#fff" stroke="#E4532F" stroke-width="2.1"/>
<circle cx="1050.23" cy="50.91" r="3.8" fill="#fff" stroke="#E4532F" stroke-width="2.1"/>
<circle cx="1057.16" cy="54.05" r="3.8" fill="#fff" stroke="#E4532F" stroke-width="2.1"/>
<circle cx="1064.09" cy="54.05" r="3.8" fill="#fff" stroke="#E4532F" stroke-width="2.1"/>
<circle cx="1071.02" cy="53.94" r="3.8" fill="#fff" stroke="#E4532F" stroke-width="2.1"/>
<circle cx="1077.96" cy="54.04" r="3.8" fill="#fff" stroke="#E4532F" stroke-width="2.1"/>
<circle cx="1084.89" cy="53.19" r="3.8" fill="#fff" stroke="#E4532F" stroke-width="2.1"/>
<circle cx="1091.82" cy="52.9" r="3.8" fill="#fff" stroke="#E4532F" stroke-width="2.1"/>
<circle cx="1098.75" cy="54.28" r="3.8" fill="#fff" stroke="#E4532F" stroke-width="2.1"/>
<circle cx="1105.69" cy="55.4" r="3.8" fill="#fff" stroke="#E4532F" stroke-width="2.1"/>
<circle cx="1112.62" cy="53.99" r="3.8" fill="#fff" stroke="#E4532F" stroke-width="2.1"/>
<circle cx="1119.55" cy="54.33" r="3.8" fill="#fff" stroke="#E4532F" stroke-width="2.1"/>
<circle cx="1126.48" cy="53.74" r="3.8" fill="#fff" stroke="#E4532F" stroke-width="2.1"/>
<circle cx="1133.42" cy="52.6" r="3.8" fill="#fff" stroke="#E4532F" stroke-width="2.1"/>
<circle cx="1140.35" cy="53.9" r="3.8" fill="#fff" stroke="#E4532F" stroke-width="2.1"/>
<circle cx="1147.28" cy="54.87" r="3.8" fill="#fff" stroke="#E4532F" stroke-width="2.1"/>
<circle cx="1154.21" cy="55.68" r="3.8" fill="#fff" stroke="#E4532F" stroke-width="2.1"/>
<circle cx="1161.14" cy="57.94" r="3.8" fill="#fff" stroke="#E4532F" stroke-width="2.1"/>
<circle cx="1168.08" cy="58.51" r="3.8" fill="#fff" stroke="#E4532F" stroke-width="2.1"/>
<circle cx="1175.01" cy="64.72" r="3.8" fill="#fff" stroke="#E4532F" stroke-width="2.1"/>
<circle cx="1181.94" cy="72.24" r="3.8" fill="#fff" stroke="#E4532F" stroke-width="2.1"/>
<circle cx="1188.87" cy="80.52" r="3.8" fill="#fff" stroke="#E4532F" stroke-width="2.1"/>
<circle cx="1195.81" cy="97.08" r="3.8" fill="#fff" stroke="#E4532F" stroke-width="2.1"/>
<circle cx="1202.74" cy="120.23" r="3.8" fill="#fff" stroke="#E4532F" stroke-width="2.1"/>
<circle cx="1209.67" cy="152.6" r="3.8" fill="#fff" stroke="#E4532F" stroke-width="2.1"/>
<circle cx="1216.6" cy="201.9" r="3.8" fill="#fff" stroke="#E4532F" stroke-width="2.1"/>
<circle cx="1223.54" cy="267.58" r="3.8" fill="#fff" stroke="#E4532F" stroke-width="2.1"/>
<circle cx="1230.47" cy="358.1" r="3.8" fill="#fff" stroke="#E4532F" stroke-width="2.1"/>
</g>
<polyline points="823,258.5 871,258.5" fill="none" stroke="#58589E" stroke-width="2.1" stroke-linejoin="round" />
<circle cx="847" cy="258.5" r="3.6" fill="#fff" stroke="#58589E" stroke-width="1.9"/>
<text x="876" y="265.5" font-size="21" text-anchor="start" fill="#58589E" >Control</text>
<polyline points="1013,258.5 1061,258.5" fill="none" stroke="#E4532F" stroke-width="2.1" stroke-linejoin="round" />
<circle cx="1037" cy="258.5" r="3.6" fill="#fff" stroke="#E4532F" stroke-width="1.9"/>
<text x="1067" y="265.5" font-size="21" text-anchor="start" fill="#E4532F" >Cl-Doped</text>
<text x="823" y="291" font-size="21" fill="#58589E"><tspan font-style="italic">V</tspan><tspan font-size="15" dy="5">OC</tspan><tspan dy="-5">: 1.158 V</tspan></text>
<text x="823" y="324" font-size="21" fill="#58589E"><tspan font-style="italic">J</tspan><tspan font-size="15" dy="5">SC</tspan><tspan dy="-5">: 17.97 mA cm</tspan><tspan font-size="15" dy="-9">-2</tspan></text>
<text x="823" y="355" font-size="21" text-anchor="start" fill="#58589E" >FF: 80.49%</text>
<text x="823" y="381" font-size="21" text-anchor="start" fill="#58589E" >PCE: 16.75%</text>
<text x="1013" y="291" font-size="21" fill="#E4532F"><tspan font-style="italic">V</tspan><tspan font-size="15" dy="5">OC</tspan><tspan dy="-5">: 1.206 V</tspan></text>
<text x="1013" y="324" font-size="21" fill="#E4532F"><tspan font-style="italic">J</tspan><tspan font-size="15" dy="5">SC</tspan><tspan dy="-5">: 18.23 mA cm</tspan><tspan font-size="15" dy="-9">-2</tspan></text>
<text x="1013" y="355" font-size="21" text-anchor="start" fill="#E4532F" >FF: 82.65%</text>
<text x="1013" y="381" font-size="21" text-anchor="start" fill="#E4532F" >PCE: 18.17%</text>
<defs><linearGradient id="gRfill" x1="0" y1="0" x2="0" y2="1"><stop offset="0" stop-color="#f3bcac"/><stop offset="1" stop-color="#fbe6e2"/></linearGradient><linearGradient id="gBfill" x1="0" y1="0" x2="0" y2="1"><stop offset="0" stop-color="#5a5a9e" stop-opacity="0.40"/><stop offset="1" stop-color="#5a5a9e" stop-opacity="0.16"/></linearGradient></defs>
<path d="M1404,212.13 L1414.06,198.36 L1422.8,159.09 L1433.16,156.66 L1445.23,149.37 L1453.27,147.75 L1463.83,140.46 L1474.09,119.81 L1486.06,114.15 L1494.5,112.93 L1504.56,99.97 L1513.61,95.93 L1523.67,95.93 L1533.72,89.04 L1552.83,82.16 L1569.92,76.89 L1587.02,73.66 L1597.08,72.04 L1617.79,73.66 L1634.89,78.92 L1655.4,90.66 L1665.46,99.16 L1686.17,106.05 L1703.27,116.17 L1716.74,116.17 L1726.8,119.81 L1740.88,116.17 L1754.55,109.69 L1765.71,102.4 L1775.07,99.97 L1785.93,99.16 L1796.59,115.77 L1802.52,148.97 L1807.25,179.74 L1809.66,222.66 L1814.49,293.92 L1819.21,353.04 L1823.94,395.96 L1828.66,421.87 L1835.8,434.99 L1847.67,439.69 L1886.69,440.5 L1896.74,438.47 L1906.8,440.5 L1906.8,440.9 L1404,440.9 Z" fill="url(#gRfill)"/>
<polyline points="1404,212.13 1414.06,198.36 1422.8,159.09 1433.16,156.66 1445.23,149.37 1453.27,147.75 1463.83,140.46 1474.09,119.81 1486.06,114.15 1494.5,112.93 1504.56,99.97 1513.61,95.93 1523.67,95.93 1533.72,89.04 1552.83,82.16 1569.92,76.89 1587.02,73.66 1597.08,72.04 1617.79,73.66 1634.89,78.92 1655.4,90.66 1665.46,99.16 1686.17,106.05 1703.27,116.17 1716.74,116.17 1726.8,119.81 1740.88,116.17 1754.55,109.69 1765.71,102.4 1775.07,99.97 1785.93,99.16 1796.59,115.77 1802.52,148.97 1807.25,179.74 1809.66,222.66 1814.49,293.92 1819.21,353.04 1823.94,395.96 1828.66,421.87 1835.8,434.99 1847.67,439.69 1886.69,440.5 1896.74,438.47 1906.8,440.5" fill="none" stroke="#E4532F" stroke-width="2.5" stroke-linejoin="round" />
<path d="M1404,220.63 L1412.55,205.25 L1422.8,186.62 L1433.16,177.71 L1443.22,164.35 L1453.27,159.09 L1463.83,148.97 L1474.09,135.2 L1486.06,128.32 L1494.5,125.08 L1504.56,116.17 L1513.61,109.69 L1523.67,111.31 L1538.75,104.43 L1559.87,99.16 L1579.98,92.28 L1597.08,88.23 L1614.17,86.61 L1634.89,89.85 L1655.4,97.54 L1675.51,108.88 L1696.63,116.17 L1726.8,123.05 L1743.89,119 L1765.71,115.77 L1781.2,122.65 L1795.48,136.82 L1804.93,160.71 L1812.07,210.51 L1816.8,270.03 L1823.94,341.29 L1831.08,388.67 L1837.01,412.56 L1845.36,431.38 L1857.12,438.59 L1866.58,440.5 L1906.8,440.5 L1906.8,440.9 L1404,440.9 Z" fill="url(#gBfill)"/>
<polyline points="1404,220.63 1412.55,205.25 1422.8,186.62 1433.16,177.71 1443.22,164.35 1453.27,159.09 1463.83,148.97 1474.09,135.2 1486.06,128.32 1494.5,125.08 1504.56,116.17 1513.61,109.69 1523.67,111.31 1538.75,104.43 1559.87,99.16 1579.98,92.28 1597.08,88.23 1614.17,86.61 1634.89,89.85 1655.4,97.54 1675.51,108.88 1696.63,116.17 1726.8,123.05 1743.89,119 1765.71,115.77 1781.2,122.65 1795.48,136.82 1804.93,160.71 1812.07,210.51 1816.8,270.03 1823.94,341.29 1831.08,388.67 1837.01,412.56 1845.36,431.38 1857.12,438.59 1866.58,440.5 1906.8,440.5" fill="none" stroke="#58589E" stroke-width="2.5" stroke-linejoin="round" />
<polyline points="1404,440.9 1406.01,440.9 1408.02,440.9 1410.03,440.89 1412.04,440.87 1414.06,440.85 1416.07,440.82 1418.08,440.78 1420.09,440.73 1422.1,440.67 1424.11,440.6 1426.12,440.52 1428.13,440.42 1430.15,440.32 1432.16,440.2 1434.17,440.07 1436.18,439.93 1438.19,439.77 1440.2,439.61 1442.21,439.42 1444.22,439.23 1446.24,439.02 1448.25,438.79 1450.26,438.55 1452.27,438.3 1454.28,438.03 1456.29,437.74 1458.3,437.44 1460.31,437.12 1462.32,436.79 1464.34,436.44 1466.35,436.06 1468.36,435.67 1470.37,435.26 1472.38,434.82 1474.39,434.36 1476.4,433.87 1478.41,433.37 1480.43,432.85 1482.44,432.31 1484.45,431.75 1486.46,431.17 1488.47,430.56 1490.48,429.94 1492.49,429.3 1494.5,428.64 1496.52,427.96 1498.53,427.25 1500.54,426.51 1502.55,425.75 1504.56,424.96 1506.57,424.15 1508.58,423.31 1510.59,422.45 1512.6,421.57 1514.62,420.66 1516.63,419.73 1518.64,418.77 1520.65,417.8 1522.66,416.8 1524.67,415.78 1526.68,414.74 1528.69,413.66 1530.71,412.56 1532.72,411.44 1534.73,410.28 1536.74,409.1 1538.75,407.89 1540.76,406.66 1542.77,405.4 1544.78,404.11 1546.8,402.8 1548.81,401.45 1550.82,400.08 1552.83,398.69 1554.84,397.26 1556.85,395.81 1558.86,394.33 1560.87,392.83 1562.88,391.29 1564.9,389.73 1566.91,388.13 1568.92,386.51 1570.93,384.86 1572.94,383.18 1574.95,381.48 1576.96,379.74 1578.97,377.98 1580.99,376.19 1583,374.37 1585.01,372.52 1587.02,370.64 1589.03,368.76 1591.04,366.87 1593.05,364.98 1595.06,363.08 1597.08,361.18 1599.09,359.27 1601.1,357.36 1603.11,355.45 1605.12,353.53 1607.13,351.62 1609.14,349.7 1611.15,347.77 1613.16,345.85 1615.18,343.92 1617.19,341.99 1619.2,340.06 1621.21,338.12 1623.22,336.19 1625.23,334.26 1627.24,332.32 1629.25,330.39 1631.27,328.46 1633.28,326.52 1635.29,324.59 1637.3,322.66 1639.31,320.73 1641.32,318.8 1643.33,316.88 1645.34,314.96 1647.36,313.04 1649.37,311.13 1651.38,309.21 1653.39,307.31 1655.4,305.4 1657.41,303.5 1659.42,301.6 1661.43,299.71 1663.44,297.83 1665.46,295.95 1667.47,294.08 1669.48,292.21 1671.49,290.34 1673.5,288.46 1675.51,286.59 1677.52,284.72 1679.53,282.85 1681.55,280.98 1683.56,279.11 1685.57,277.24 1687.58,275.38 1689.59,273.51 1691.6,271.65 1693.61,269.79 1695.62,267.94 1697.64,266.09 1699.65,264.25 1701.66,262.4 1703.67,260.57 1705.68,258.73 1707.69,256.88 1709.7,255.04 1711.71,253.19 1713.72,251.34 1715.74,249.48 1717.75,247.63 1719.76,245.77 1721.77,243.91 1723.78,242.06 1725.79,240.21 1727.8,238.35 1729.81,236.5 1731.83,234.63 1733.84,232.76 1735.85,230.89 1737.86,229.01 1739.87,227.12 1741.88,225.22 1743.89,223.32 1745.9,221.41 1747.92,219.49 1749.93,217.56 1751.94,215.63 1753.95,213.68 1755.96,211.73 1757.97,209.76 1759.98,207.78 1761.99,205.8 1764,203.8 1766.02,201.79 1768.03,199.77 1770.04,197.75 1772.05,195.72 1774.06,193.68 1776.07,191.64 1778.08,189.59 1780.09,187.54 1782.11,185.49 1784.12,183.43 1786.13,181.37 1788.14,179.31 1790.15,177.27 1792.16,175.25 1794.17,173.24 1796.18,171.25 1798.2,169.29 1800.21,167.4 1802.22,165.57 1804.23,163.81 1806.24,162.13 1808.25,160.53 1810.26,159.14 1812.27,157.94 1814.28,156.93 1816.3,156.08 1818.31,155.39 1820.32,154.85 1822.33,154.42 1824.34,154.11 1826.35,153.88 1828.36,153.72 1830.37,153.61 1832.39,153.52 1834.4,153.45 1836.41,153.41 1838.42,153.38 1840.43,153.35 1842.44,153.33 1844.45,153.31 1846.46,153.3 1848.48,153.29 1850.49,153.28 1852.5,153.27 1854.51,153.27 1856.52,153.26 1858.53,153.25 1860.54,153.25 1862.55,153.24 1864.56,153.23 1866.58,153.23 1868.59,153.22 1870.6,153.22 1872.61,153.21 1874.62,153.21 1876.63,153.21 1878.64,153.2 1880.65,153.2 1882.67,153.2 1884.68,153.19 1886.69,153.19 1888.7,153.19 1890.71,153.18 1892.72,153.17 1894.73,153.16 1896.74,153.14 1898.76,153.13 1900.77,153.12 1902.78,153.11 1904.79,153.1 1906.8,153.1" fill="none" stroke="#E4532F" stroke-width="2.5" stroke-linejoin="round" />
<polyline points="1404,440.9 1406.01,440.9 1408.02,440.9 1410.03,440.89 1412.04,440.87 1414.06,440.85 1416.07,440.82 1418.08,440.79 1420.09,440.74 1422.1,440.69 1424.11,440.62 1426.12,440.54 1428.13,440.46 1430.15,440.36 1432.16,440.25 1434.17,440.13 1436.18,440 1438.19,439.85 1440.2,439.7 1442.21,439.52 1444.22,439.33 1446.24,439.13 1448.25,438.92 1450.26,438.69 1452.27,438.44 1454.28,438.18 1456.29,437.91 1458.3,437.62 1460.31,437.31 1462.32,436.98 1464.34,436.64 1466.35,436.28 1468.36,435.9 1470.37,435.5 1472.38,435.08 1474.39,434.64 1476.4,434.18 1478.41,433.7 1480.43,433.2 1482.44,432.68 1484.45,432.15 1486.46,431.59 1488.47,431.01 1490.48,430.41 1492.49,429.8 1494.5,429.16 1496.52,428.5 1498.53,427.82 1500.54,427.11 1502.55,426.38 1504.56,425.63 1506.57,424.85 1508.58,424.05 1510.59,423.23 1512.6,422.38 1514.62,421.5 1516.63,420.61 1518.64,419.69 1520.65,418.76 1522.66,417.8 1524.67,416.83 1526.68,415.83 1528.69,414.8 1530.71,413.75 1532.72,412.68 1534.73,411.58 1536.74,410.45 1538.75,409.3 1540.76,408.13 1542.77,406.93 1544.78,405.7 1546.8,404.45 1548.81,403.17 1550.82,401.87 1552.83,400.55 1554.84,399.19 1556.85,397.82 1558.86,396.41 1560.87,394.98 1562.88,393.52 1564.9,392.04 1566.91,390.53 1568.92,388.99 1570.93,387.42 1572.94,385.82 1574.95,384.2 1576.96,382.55 1578.97,380.86 1580.99,379.15 1583,377.42 1585.01,375.65 1587.02,373.86 1589.03,372.06 1591.04,370.25 1593.05,368.44 1595.06,366.62 1597.08,364.8 1599.09,362.97 1601.1,361.14 1603.11,359.3 1605.12,357.46 1607.13,355.61 1609.14,353.77 1611.15,351.91 1613.16,350.05 1615.18,348.19 1617.19,346.33 1619.2,344.46 1621.21,342.59 1623.22,340.72 1625.23,338.85 1627.24,336.98 1629.25,335.11 1631.27,333.23 1633.28,331.36 1635.29,329.48 1637.3,327.6 1639.31,325.72 1641.32,323.84 1643.33,321.97 1645.34,320.09 1647.36,318.22 1649.37,316.34 1651.38,314.47 1653.39,312.6 1655.4,310.73 1657.41,308.86 1659.42,306.99 1661.43,305.13 1663.44,303.27 1665.46,301.41 1667.47,299.56 1669.48,297.71 1671.49,295.86 1673.5,294.02 1675.51,292.17 1677.52,290.34 1679.53,288.5 1681.55,286.66 1683.56,284.82 1685.57,282.99 1687.58,281.15 1689.59,279.32 1691.6,277.48 1693.61,275.65 1695.62,273.82 1697.64,271.99 1699.65,270.15 1701.66,268.32 1703.67,266.49 1705.68,264.66 1707.69,262.82 1709.7,260.99 1711.71,259.16 1713.72,257.32 1715.74,255.49 1717.75,253.65 1719.76,251.82 1721.77,249.98 1723.78,248.14 1725.79,246.31 1727.8,244.47 1729.81,242.63 1731.83,240.78 1733.84,238.93 1735.85,237.07 1737.86,235.2 1739.87,233.33 1741.88,231.45 1743.89,229.57 1745.9,227.68 1747.92,225.79 1749.93,223.89 1751.94,221.99 1753.95,220.08 1755.96,218.17 1757.97,216.25 1759.98,214.33 1761.99,212.41 1764,210.48 1766.02,208.54 1768.03,206.6 1770.04,204.67 1772.05,202.74 1774.06,200.81 1776.07,198.88 1778.08,196.96 1780.09,195.04 1782.11,193.12 1784.12,191.21 1786.13,189.3 1788.14,187.41 1790.15,185.53 1792.16,183.66 1794.17,181.79 1796.18,179.94 1798.2,178.11 1800.21,176.3 1802.22,174.53 1804.23,172.79 1806.24,171.08 1808.25,169.45 1810.26,167.91 1812.27,166.46 1814.28,165.13 1816.3,163.95 1818.31,162.92 1820.32,162.02 1822.33,161.24 1824.34,160.58 1826.35,160.02 1828.36,159.54 1830.37,159.14 1832.39,158.82 1834.4,158.55 1836.41,158.33 1838.42,158.16 1840.43,158.01 1842.44,157.9 1844.45,157.81 1846.46,157.75 1848.48,157.7 1850.49,157.65 1852.5,157.62 1854.51,157.59 1856.52,157.57 1858.53,157.55 1860.54,157.54 1862.55,157.53 1864.56,157.53 1866.58,157.52 1868.59,157.52 1870.6,157.52 1872.61,157.51 1874.62,157.51 1876.63,157.51 1878.64,157.51 1880.65,157.5 1882.67,157.5 1884.68,157.5 1886.69,157.5 1888.7,157.49 1890.71,157.49 1892.72,157.49 1894.73,157.49 1896.74,157.48 1898.76,157.48 1900.77,157.48 1902.78,157.48 1904.79,157.47 1906.8,157.47" fill="none" stroke="#58589E" stroke-width="2.5" stroke-linejoin="round" />
<path d="M1404 36H1906.8V440.9H1404Z" fill="none" stroke="#111" stroke-width="1.8"/>
<path d="M1404 440.9v8 M1504.56 440.9v8 M1605.12 440.9v8 M1705.68 440.9v8 M1806.24 440.9v8 M1906.8 440.9v8 M1454.28 440.9v4 M1554.84 440.9v4 M1655.4 440.9v4 M1755.96 440.9v4 M1856.52 440.9v4" stroke="#111" stroke-width="1.7" fill="none"/>
<text x="1404" y="466.9" font-size="16.8" text-anchor="middle" fill="#000" >300</text>
<text x="1504.56" y="466.9" font-size="16.8" text-anchor="middle" fill="#000" >400</text>
<text x="1605.12" y="466.9" font-size="16.8" text-anchor="middle" fill="#000" >500</text>
<text x="1705.68" y="466.9" font-size="16.8" text-anchor="middle" fill="#000" >600</text>
<text x="1806.24" y="466.9" font-size="16.8" text-anchor="middle" fill="#000" >700</text>
<text x="1906.8" y="466.9" font-size="16.8" text-anchor="middle" fill="#000" >800</text>
<path d="M1404 440.9h-8 M1404 359.92h-8 M1404 278.94h-8 M1404 197.96h-8 M1404 116.98h-8 M1404 36h-8 M1404 400.41h-4 M1404 319.43h-4 M1404 238.45h-4 M1404 157.47h-4 M1404 76.49h-4" stroke="#111" stroke-width="1.7" fill="none"/>
<text x="1390" y="446.11" font-size="16.8" text-anchor="end" fill="#000" >0</text>
<text x="1390" y="365.13" font-size="16.8" text-anchor="end" fill="#000" >20</text>
<text x="1390" y="284.15" font-size="16.8" text-anchor="end" fill="#000" >40</text>
<text x="1390" y="203.17" font-size="16.8" text-anchor="end" fill="#000" >60</text>
<text x="1390" y="122.19" font-size="16.8" text-anchor="end" fill="#000" >80</text>
<text x="1390" y="41.21" font-size="16.8" text-anchor="end" fill="#000" >100</text>
<path d="M1906.8 440.9h8 M1906.8 359.92h8 M1906.8 278.94h8 M1906.8 197.96h8 M1906.8 116.98h8 M1906.8 36h8 M1906.8 400.41h4 M1906.8 319.43h4 M1906.8 238.45h4 M1906.8 157.47h4 M1906.8 76.49h4" stroke="#111" stroke-width="1.7" fill="none"/>
<text x="1920.8" y="446.11" font-size="16.8" text-anchor="start" fill="#000" >0</text>
<text x="1920.8" y="365.13" font-size="16.8" text-anchor="start" fill="#000" >5</text>
<text x="1920.8" y="284.15" font-size="16.8" text-anchor="start" fill="#000" >10</text>
<text x="1920.8" y="203.17" font-size="16.8" text-anchor="start" fill="#000" >15</text>
<text x="1920.8" y="122.19" font-size="16.8" text-anchor="start" fill="#000" >20</text>
<text x="1920.8" y="41.21" font-size="16.8" text-anchor="start" fill="#000" >25</text>
<text x="1655.4" y="500" font-size="21" text-anchor="middle" fill="#000" >Wavelength / nm</text>
<text transform="translate(1353 238.45) rotate(-90)" font-size="21" text-anchor="middle">EQE / %</text>
<text transform="translate(1952 238.45) rotate(90)" font-size="21" text-anchor="middle">Integrated <tspan font-style="italic">J</tspan><tspan font-size="14" dy="5">SC</tspan><tspan dy="-5"> / mA cm</tspan><tspan font-size="14" dy="-9">-2</tspan></text>
<polyline points="1751,58 1799,58" fill="none" stroke="#E4532F" stroke-width="2.8" stroke-linejoin="round" />
<text x="1804" y="65" font-size="21" text-anchor="start" fill="#000" >Cl-Doped</text>
<polyline points="1751,84 1799,84" fill="none" stroke="#58589E" stroke-width="2.8" stroke-linejoin="round" />
<text x="1804" y="91" font-size="21" text-anchor="start" fill="#000" >Control</text>
<polyline points="1461,259 1509,259" fill="none" stroke="#E4532F" stroke-width="2.8" stroke-linejoin="round" />
<text x="1515" y="266" font-size="21">17.77 mA cm<tspan font-size="14" dy="-9">-2</tspan></text>
<polyline points="1461,287 1509,287" fill="none" stroke="#58589E" stroke-width="2.8" stroke-linejoin="round" />
<text x="1515" y="294" font-size="21">17.50 mA cm<tspan font-size="14" dy="-9">-2</tspan></text>
<rect x="93.3" y="553.85" width="503.05" height="405" fill="none" stroke="#111" stroke-width="1.8"/>
<path d="M156.18 958.85v8 M281.94 958.85v8 M407.71 958.85v8 M533.47 958.85v8 M93.3 958.85v4 M219.06 958.85v4 M344.82 958.85v4 M470.59 958.85v4 M596.35 958.85v4" stroke="#111" stroke-width="1.7" fill="none"/>
<path d="M93.3 958.85h-8 M93.3 908.23h-8 M93.3 857.6h-8 M93.3 806.98h-8 M93.3 756.35h-8 M93.3 705.72h-8 M93.3 655.1h-8 M93.3 604.48h-8 M93.3 553.85h-8 M93.3 933.54h-4 M93.3 882.91h-4 M93.3 832.29h-4 M93.3 781.66h-4 M93.3 731.04h-4 M93.3 680.41h-4 M93.3 629.79h-4 M93.3 579.16h-4" stroke="#111" stroke-width="1.7" fill="none"/>
<text x="79.3" y="964.06" font-size="16.8" text-anchor="end" fill="#000" >1.10</text>
<text x="79.3" y="913.43" font-size="16.8" text-anchor="end" fill="#000" >1.15</text>
<text x="79.3" y="862.81" font-size="16.8" text-anchor="end" fill="#000" >1.20</text>
<text x="79.3" y="812.18" font-size="16.8" text-anchor="end" fill="#000" >1.25</text>
<text x="79.3" y="761.56" font-size="16.8" text-anchor="end" fill="#000" >1.30</text>
<text x="79.3" y="710.93" font-size="16.8" text-anchor="end" fill="#000" >1.35</text>
<text x="79.3" y="660.31" font-size="16.8" text-anchor="end" fill="#000" >1.40</text>
<text x="79.3" y="609.68" font-size="16.8" text-anchor="end" fill="#000" >1.45</text>
<text x="79.3" y="559.06" font-size="16.8" text-anchor="end" fill="#000" >1.50</text>
<text transform="translate(38 756.35) rotate(-90)" font-size="21" text-anchor="middle">Energy / eV</text>
<text x="156.18" y="985.5" font-size="17.2" text-anchor="middle">q<tspan font-style="italic">V</tspan><tspan font-size="12" dy="5">SQ</tspan></text>
<text x="281.94" y="985.5" font-size="17.2" text-anchor="middle">q<tspan font-style="italic">V</tspan><tspan font-size="12" dy="5">OC,rad</tspan></text>
<text x="407.71" y="985.5" font-size="17.2" text-anchor="middle" fill="#000" >QFLS</text>
<text x="533.47" y="985.5" font-size="17.2" text-anchor="middle">q<tspan font-style="italic">V</tspan><tspan font-size="12" dy="5">OC</tspan></text>
<circle cx="156.18" cy="589.29" r="7.3" fill="none" stroke="#E4532F" stroke-width="4"/>
<rect x="149.68" y="601.01" width="13" height="13" fill="none" stroke="#58589E" stroke-width="4"/>
<circle cx="281.94" cy="635.86" r="7.3" fill="none" stroke="#E4532F" stroke-width="4"/>
<rect x="275.44" y="644.55" width="13" height="13" fill="none" stroke="#58589E" stroke-width="4"/>
<circle cx="407.71" cy="823.18" r="7.3" fill="none" stroke="#E4532F" stroke-width="4"/>
<rect x="401.21" y="858.19" width="13" height="13" fill="none" stroke="#58589E" stroke-width="4"/>
<circle cx="533.47" cy="851.53" r="7.3" fill="none" stroke="#E4532F" stroke-width="4"/>
<rect x="526.97" y="893.63" width="13" height="13" fill="none" stroke="#58589E" stroke-width="4"/>
<text x="156" y="643.5" font-size="20.8" text-anchor="middle" fill="#E4532F" >1.465 eV</text>
<text x="156" y="668.5" font-size="20.8" text-anchor="middle" fill="#58589E" >1.447 eV</text>
<text x="281" y="686.5" font-size="20.8" text-anchor="middle" fill="#E4532F" >1.419 eV</text>
<text x="281" y="711.5" font-size="20.8" text-anchor="middle" fill="#58589E" >1.404 eV</text>
<text x="407" y="777.5" font-size="20.8" text-anchor="middle" fill="#E4532F" >1.234 eV</text>
<text x="407" y="802.5" font-size="20.8" text-anchor="middle" fill="#58589E" >1.193 eV</text>
<text x="533" y="805.5" font-size="20.8" text-anchor="middle" fill="#E4532F" >1.206 eV</text>
<text x="533" y="830.5" font-size="20.8" text-anchor="middle" fill="#58589E" >1.158 eV</text>
<circle cx="158" cy="864" r="7.3" fill="none" stroke="#E4532F" stroke-width="4"/>
<rect x="151.5" y="883.5" width="13" height="13" fill="none" stroke="#58589E" stroke-width="4"/>
<text x="188" y="871" font-size="21" text-anchor="start" fill="#000" >Cl-Doped</text>
<text x="188" y="897" font-size="21" text-anchor="start" fill="#000" >Control</text>
<rect x="745.1" y="694.73" width="502.69999999999993" height="232.87" fill="#e3e3ef"/>
<rect x="745.1" y="702.42" width="502.69999999999993" height="178.2" fill="#e9cfcf"/>
<polyline points="788.79,885.28 859.07,854.09 889.33,822.1 959.61,760.74 989.87,752.84 1060.15,753.45 1090.41,738.06 1160.69,719.02 1190.95,702.01" fill="none" stroke="#EE6B50" stroke-width="1.9" stroke-linejoin="round" />
<circle cx="788.79" cy="885.28" r="3.9" fill="#fff" stroke="#EE6B50" stroke-width="2.2"/>
<circle cx="859.07" cy="854.09" r="3.9" fill="#fff" stroke="#EE6B50" stroke-width="2.2"/>
<circle cx="889.33" cy="822.1" r="3.9" fill="#fff" stroke="#EE6B50" stroke-width="2.2"/>
<circle cx="959.61" cy="760.74" r="3.9" fill="#fff" stroke="#EE6B50" stroke-width="2.2"/>
<circle cx="989.87" cy="752.84" r="3.9" fill="#fff" stroke="#EE6B50" stroke-width="2.2"/>
<circle cx="1060.15" cy="753.45" r="3.9" fill="#fff" stroke="#EE6B50" stroke-width="2.2"/>
<circle cx="1090.41" cy="738.06" r="3.9" fill="#fff" stroke="#EE6B50" stroke-width="2.2"/>
<circle cx="1160.69" cy="719.02" r="3.9" fill="#fff" stroke="#EE6B50" stroke-width="2.2"/>
<circle cx="1190.95" cy="702.01" r="3.9" fill="#fff" stroke="#EE6B50" stroke-width="2.2"/>
<polyline points="788.79,874.95 859.07,888.11 889.33,860.78 959.61,809.54 989.87,746.16 1060.15,758.92 1090.41,749.6 1160.69,719.43 1190.95,702.01" fill="none" stroke="#C4321E" stroke-width="1.9" stroke-linejoin="round" />
<circle cx="788.79" cy="874.95" r="3.9" fill="#fff" stroke="#C4321E" stroke-width="2.2"/>
<circle cx="859.07" cy="888.11" r="3.9" fill="#fff" stroke="#C4321E" stroke-width="2.2"/>
<circle cx="889.33" cy="860.78" r="3.9" fill="#fff" stroke="#C4321E" stroke-width="2.2"/>
<circle cx="959.61" cy="809.54" r="3.9" fill="#fff" stroke="#C4321E" stroke-width="2.2"/>
<circle cx="989.87" cy="746.16" r="3.9" fill="#fff" stroke="#C4321E" stroke-width="2.2"/>
<circle cx="1060.15" cy="758.92" r="3.9" fill="#fff" stroke="#C4321E" stroke-width="2.2"/>
<circle cx="1090.41" cy="749.6" r="3.9" fill="#fff" stroke="#C4321E" stroke-width="2.2"/>
<circle cx="1160.69" cy="719.43" r="3.9" fill="#fff" stroke="#C4321E" stroke-width="2.2"/>
<circle cx="1190.95" cy="702.01" r="3.9" fill="#fff" stroke="#C4321E" stroke-width="2.2"/>
<polyline points="788.79,924.16 859.07,904.92 889.33,870.09 959.61,800.83 989.87,786.46 1060.15,741.91 1090.41,733.4 1160.69,711.74 1190.95,694.32" fill="none" stroke="#8E8EB6" stroke-width="1.9" stroke-linejoin="round" />
<circle cx="788.79" cy="924.16" r="3.9" fill="#fff" stroke="#8E8EB6" stroke-width="2.2"/>
<circle cx="859.07" cy="904.92" r="3.9" fill="#fff" stroke="#8E8EB6" stroke-width="2.2"/>
<circle cx="889.33" cy="870.09" r="3.9" fill="#fff" stroke="#8E8EB6" stroke-width="2.2"/>
<circle cx="959.61" cy="800.83" r="3.9" fill="#fff" stroke="#8E8EB6" stroke-width="2.2"/>
<circle cx="989.87" cy="786.46" r="3.9" fill="#fff" stroke="#8E8EB6" stroke-width="2.2"/>
<circle cx="1060.15" cy="741.91" r="3.9" fill="#fff" stroke="#8E8EB6" stroke-width="2.2"/>
<circle cx="1090.41" cy="733.4" r="3.9" fill="#fff" stroke="#8E8EB6" stroke-width="2.2"/>
<circle cx="1160.69" cy="711.74" r="3.9" fill="#fff" stroke="#8E8EB6" stroke-width="2.2"/>
<circle cx="1190.95" cy="694.32" r="3.9" fill="#fff" stroke="#8E8EB6" stroke-width="2.2"/>
<polyline points="788.79,931.04 859.07,926.38 889.33,922.74 959.61,900.87 989.87,815.42 1060.15,754.67 1090.41,736.24 1160.69,711.74 1190.95,694.32" fill="none" stroke="#3E3E78" stroke-width="1.9" stroke-linejoin="round" />
<circle cx="788.79" cy="931.04" r="3.9" fill="#fff" stroke="#3E3E78" stroke-width="2.2"/>
<circle cx="859.07" cy="926.38" r="3.9" fill="#fff" stroke="#3E3E78" stroke-width="2.2"/>
<circle cx="889.33" cy="922.74" r="3.9" fill="#fff" stroke="#3E3E78" stroke-width="2.2"/>
<circle cx="959.61" cy="900.87" r="3.9" fill="#fff" stroke="#3E3E78" stroke-width="2.2"/>
<circle cx="989.87" cy="815.42" r="3.9" fill="#fff" stroke="#3E3E78" stroke-width="2.2"/>
<circle cx="1060.15" cy="754.67" r="3.9" fill="#fff" stroke="#3E3E78" stroke-width="2.2"/>
<circle cx="1090.41" cy="736.24" r="3.9" fill="#fff" stroke="#3E3E78" stroke-width="2.2"/>
<circle cx="1160.69" cy="711.74" r="3.9" fill="#fff" stroke="#3E3E78" stroke-width="2.2"/>
<circle cx="1190.95" cy="694.32" r="3.9" fill="#fff" stroke="#3E3E78" stroke-width="2.2"/>
<rect x="745.1" y="555" width="502.7" height="405" fill="none" stroke="#111" stroke-width="1.8"/>
<path d="M745.1 960v8 M845.64 960v8 M946.18 960v8 M1046.72 960v8 M1147.26 960v8 M1247.8 960v8 M775.37 960v4 M793.07 960v4 M805.63 960v4 M815.37 960v4 M823.34 960v4 M830.07 960v4 M835.9 960v4 M841.04 960v4 M875.91 960v4 M893.61 960v4 M906.17 960v4 M915.91 960v4 M923.88 960v4 M930.61 960v4 M936.44 960v4 M941.58 960v4 M976.45 960v4 M994.15 960v4 M1006.71 960v4 M1016.45 960v4 M1024.42 960v4 M1031.15 960v4 M1036.98 960v4 M1042.12 960v4 M1076.99 960v4 M1094.69 960v4 M1107.25 960v4 M1116.99 960v4 M1124.96 960v4 M1131.69 960v4 M1137.52 960v4 M1142.66 960v4 M1177.53 960v4 M1195.23 960v4 M1207.79 960v4 M1217.53 960v4 M1225.5 960v4 M1232.23 960v4 M1238.06 960v4 M1243.2 960v4" stroke="#111" stroke-width="1.7" fill="none"/>
<text x="745.1" y="986.5" font-size="16.8" text-anchor="middle" fill="#000" >0.1</text>
<text x="845.64" y="986.5" font-size="16.8" text-anchor="middle" fill="#000" >1</text>
<text x="946.18" y="986.5" font-size="16.8" text-anchor="middle" fill="#000" >10</text>
<text x="1046.72" y="986.5" font-size="16.8" text-anchor="middle" fill="#000" >100</text>
<text x="1147.26" y="986.5" font-size="16.8" text-anchor="middle" fill="#000" >1000</text>
<text x="1247.8" y="986.5" font-size="16.8" text-anchor="middle" fill="#000" >10000</text>
<path d="M745.1 960h-8 M745.1 858.75h-8 M745.1 757.5h-8 M745.1 656.25h-8 M745.1 555h-8 M745.1 909.38h-4 M745.1 808.12h-4 M745.1 706.88h-4 M745.1 605.62h-4" stroke="#111" stroke-width="1.7" fill="none"/>
<text x="731.1" y="965.21" font-size="16.8" text-anchor="end" fill="#000" >18.0</text>
<text x="731.1" y="863.96" font-size="16.8" text-anchor="end" fill="#000" >18.5</text>
<text x="731.1" y="762.71" font-size="16.8" text-anchor="end" fill="#000" >19.0</text>
<text x="731.1" y="661.46" font-size="16.8" text-anchor="end" fill="#000" >19.5</text>
<text x="731.1" y="560.21" font-size="16.8" text-anchor="end" fill="#000" >20.0</text>
<text x="996.45" y="1022.5" font-size="21" text-anchor="middle">Scan Rate / V s<tspan font-size="14" dy="-9">-1</tspan></text>
<text transform="translate(685.5 757.5) rotate(-90)" font-size="21" text-anchor="middle"><tspan font-style="italic">J</tspan><tspan font-size="14" dy="5">SC</tspan><tspan dy="-5"> / mA cm</tspan><tspan font-size="14" dy="-9">-2</tspan></text>
<polyline points="1071,575.5 1115,575.5" fill="none" stroke="#EE6B50" stroke-width="1.9" stroke-linejoin="round" />
<circle cx="1093" cy="575.5" r="3.9" fill="#fff" stroke="#EE6B50" stroke-width="2.1"/>
<text x="1120" y="581.3" font-size="19" text-anchor="start" fill="#000" >Cl-Doped (F)</text>
<polyline points="1071,599 1115,599" fill="none" stroke="#C4321E" stroke-width="1.9" stroke-linejoin="round" />
<circle cx="1093" cy="599" r="3.9" fill="#fff" stroke="#C4321E" stroke-width="2.1"/>
<text x="1120" y="604.8" font-size="19" text-anchor="start" fill="#000" >Cl-Doped (R)</text>
<polyline points="1071,622.5 1115,622.5" fill="none" stroke="#8E8EB6" stroke-width="1.9" stroke-linejoin="round" />
<circle cx="1093" cy="622.5" r="3.9" fill="#fff" stroke="#8E8EB6" stroke-width="2.1"/>
<text x="1120" y="628.3" font-size="19" text-anchor="start" fill="#000" >Control (F)</text>
<polyline points="1071,646 1115,646" fill="none" stroke="#3E3E78" stroke-width="1.9" stroke-linejoin="round" />
<circle cx="1093" cy="646" r="3.9" fill="#fff" stroke="#3E3E78" stroke-width="2.1"/>
<text x="1120" y="651.8" font-size="19" text-anchor="start" fill="#000" >Control (R)</text>
<text x="995.7" y="843" font-size="18.9" fill="#C4321E">Ionic <tspan font-style="italic">J</tspan><tspan font-size="13" dy="5">SC</tspan><tspan dy="-5"> Loss: 0.88 mA cm</tspan><tspan font-size="13" dy="-8">-2</tspan></text>
<text x="986.6" y="912" font-size="18.9" fill="#4e4e8a">Ionic <tspan font-style="italic">J</tspan><tspan font-size="13" dy="5">SC</tspan><tspan dy="-5"> Loss: 1.15 mA cm</tspan><tspan font-size="13" dy="-8">-2</tspan></text>
<rect x="1404" y="740.28" width="502.9000000000001" height="76.95" fill="#e3e3ef"/>
<rect x="1404" y="671.93" width="502.9000000000001" height="71.38" fill="#f9dcd5"/>
<rect x="1404" y="740.28" width="502.9000000000001" height="4.05" fill="#eccfcd"/>
<polyline points="1447.71,740.02 1518.01,726.61 1548.29,708.89 1618.59,691.67 1648.87,689.9 1719.17,677.5 1749.45,672.94 1819.75,673.96 1850.03,672.44" fill="none" stroke="#EE6B50" stroke-width="1.9" stroke-linejoin="round" />
<circle cx="1447.71" cy="740.02" r="3.9" fill="#fff" stroke="#EE6B50" stroke-width="2.2"/>
<circle cx="1518.01" cy="726.61" r="3.9" fill="#fff" stroke="#EE6B50" stroke-width="2.2"/>
<circle cx="1548.29" cy="708.89" r="3.9" fill="#fff" stroke="#EE6B50" stroke-width="2.2"/>
<circle cx="1618.59" cy="691.67" r="3.9" fill="#fff" stroke="#EE6B50" stroke-width="2.2"/>
<circle cx="1648.87" cy="689.9" r="3.9" fill="#fff" stroke="#EE6B50" stroke-width="2.2"/>
<circle cx="1719.17" cy="677.5" r="3.9" fill="#fff" stroke="#EE6B50" stroke-width="2.2"/>
<circle cx="1749.45" cy="672.94" r="3.9" fill="#fff" stroke="#EE6B50" stroke-width="2.2"/>
<circle cx="1819.75" cy="673.96" r="3.9" fill="#fff" stroke="#EE6B50" stroke-width="2.2"/>
<circle cx="1850.03" cy="672.44" r="3.9" fill="#fff" stroke="#EE6B50" stroke-width="2.2"/>
<polyline points="1447.71,744.32 1518.01,768.62 1548.29,791.91 1618.59,857.22 1648.87,874.43 1719.17,845.07 1749.45,787.36 1819.75,686.11 1850.03,672.44" fill="none" stroke="#C4321E" stroke-width="1.9" stroke-linejoin="round" />
<circle cx="1447.71" cy="744.32" r="3.9" fill="#fff" stroke="#C4321E" stroke-width="2.2"/>
<circle cx="1518.01" cy="768.62" r="3.9" fill="#fff" stroke="#C4321E" stroke-width="2.2"/>
<circle cx="1548.29" cy="791.91" r="3.9" fill="#fff" stroke="#C4321E" stroke-width="2.2"/>
<circle cx="1618.59" cy="857.22" r="3.9" fill="#fff" stroke="#C4321E" stroke-width="2.2"/>
<circle cx="1648.87" cy="874.43" r="3.9" fill="#fff" stroke="#C4321E" stroke-width="2.2"/>
<circle cx="1719.17" cy="845.07" r="3.9" fill="#fff" stroke="#C4321E" stroke-width="2.2"/>
<circle cx="1749.45" cy="787.36" r="3.9" fill="#fff" stroke="#C4321E" stroke-width="2.2"/>
<circle cx="1819.75" cy="686.11" r="3.9" fill="#fff" stroke="#C4321E" stroke-width="2.2"/>
<circle cx="1850.03" cy="672.44" r="3.9" fill="#fff" stroke="#C4321E" stroke-width="2.2"/>
<polyline points="1447.71,809.63 1518.01,796.98 1548.29,780.27 1618.59,756.48 1648.87,755.97 1719.17,743.31 1749.45,744.32 1819.75,740.78 1850.03,737.24" fill="none" stroke="#8E8EB6" stroke-width="1.9" stroke-linejoin="round" />
<circle cx="1447.71" cy="809.63" r="3.9" fill="#fff" stroke="#8E8EB6" stroke-width="2.2"/>
<circle cx="1518.01" cy="796.98" r="3.9" fill="#fff" stroke="#8E8EB6" stroke-width="2.2"/>
<circle cx="1548.29" cy="780.27" r="3.9" fill="#fff" stroke="#8E8EB6" stroke-width="2.2"/>
<circle cx="1618.59" cy="756.48" r="3.9" fill="#fff" stroke="#8E8EB6" stroke-width="2.2"/>
<circle cx="1648.87" cy="755.97" r="3.9" fill="#fff" stroke="#8E8EB6" stroke-width="2.2"/>
<circle cx="1719.17" cy="743.31" r="3.9" fill="#fff" stroke="#8E8EB6" stroke-width="2.2"/>
<circle cx="1749.45" cy="744.32" r="3.9" fill="#fff" stroke="#8E8EB6" stroke-width="2.2"/>
<circle cx="1819.75" cy="740.78" r="3.9" fill="#fff" stroke="#8E8EB6" stroke-width="2.2"/>
<circle cx="1850.03" cy="737.24" r="3.9" fill="#fff" stroke="#8E8EB6" stroke-width="2.2"/>
<polyline points="1447.71,817.73 1518.01,835.96 1548.29,856.71 1618.59,894.17 1648.87,918.48 1719.17,922.02 1749.45,888.1 1819.75,761.54 1850.03,740.28" fill="none" stroke="#3E3E78" stroke-width="1.9" stroke-linejoin="round" />
<circle cx="1447.71" cy="817.73" r="3.9" fill="#fff" stroke="#3E3E78" stroke-width="2.2"/>
<circle cx="1518.01" cy="835.96" r="3.9" fill="#fff" stroke="#3E3E78" stroke-width="2.2"/>
<circle cx="1548.29" cy="856.71" r="3.9" fill="#fff" stroke="#3E3E78" stroke-width="2.2"/>
<circle cx="1618.59" cy="894.17" r="3.9" fill="#fff" stroke="#3E3E78" stroke-width="2.2"/>
<circle cx="1648.87" cy="918.48" r="3.9" fill="#fff" stroke="#3E3E78" stroke-width="2.2"/>
<circle cx="1719.17" cy="922.02" r="3.9" fill="#fff" stroke="#3E3E78" stroke-width="2.2"/>
<circle cx="1749.45" cy="888.1" r="3.9" fill="#fff" stroke="#3E3E78" stroke-width="2.2"/>
<circle cx="1819.75" cy="761.54" r="3.9" fill="#fff" stroke="#3E3E78" stroke-width="2.2"/>
<circle cx="1850.03" cy="740.28" r="3.9" fill="#fff" stroke="#3E3E78" stroke-width="2.2"/>
<rect x="1404" y="556" width="502.9" height="405" fill="none" stroke="#111" stroke-width="1.8"/>
<path d="M1404 961v8 M1504.58 961v8 M1605.16 961v8 M1705.74 961v8 M1806.32 961v8 M1906.9 961v8 M1434.28 961v4 M1451.99 961v4 M1464.56 961v4 M1474.3 961v4 M1482.27 961v4 M1489 961v4 M1494.83 961v4 M1499.98 961v4 M1534.86 961v4 M1552.57 961v4 M1565.14 961v4 M1574.88 961v4 M1582.85 961v4 M1589.58 961v4 M1595.41 961v4 M1600.56 961v4 M1635.44 961v4 M1653.15 961v4 M1665.72 961v4 M1675.46 961v4 M1683.43 961v4 M1690.16 961v4 M1695.99 961v4 M1701.14 961v4 M1736.02 961v4 M1753.73 961v4 M1766.3 961v4 M1776.04 961v4 M1784.01 961v4 M1790.74 961v4 M1796.57 961v4 M1801.72 961v4 M1836.6 961v4 M1854.31 961v4 M1866.88 961v4 M1876.62 961v4 M1884.59 961v4 M1891.32 961v4 M1897.15 961v4 M1902.3 961v4" stroke="#111" stroke-width="1.7" fill="none"/>
<text x="1404" y="987.5" font-size="16.8" text-anchor="middle" fill="#000" >0.1</text>
<text x="1504.58" y="987.5" font-size="16.8" text-anchor="middle" fill="#000" >1</text>
<text x="1605.16" y="987.5" font-size="16.8" text-anchor="middle" fill="#000" >10</text>
<text x="1705.74" y="987.5" font-size="16.8" text-anchor="middle" fill="#000" >100</text>
<text x="1806.32" y="987.5" font-size="16.8" text-anchor="middle" fill="#000" >1000</text>
<text x="1906.9" y="987.5" font-size="16.8" text-anchor="middle" fill="#000" >10000</text>
<path d="M1404 961h-8 M1404 859.75h-8 M1404 758.5h-8 M1404 657.25h-8 M1404 556h-8 M1404 910.38h-4 M1404 809.12h-4 M1404 707.88h-4 M1404 606.62h-4" stroke="#111" stroke-width="1.7" fill="none"/>
<text x="1390" y="966.21" font-size="16.8" text-anchor="end" fill="#000" >14</text>
<text x="1390" y="864.96" font-size="16.8" text-anchor="end" fill="#000" >16</text>
<text x="1390" y="763.71" font-size="16.8" text-anchor="end" fill="#000" >18</text>
<text x="1390" y="662.46" font-size="16.8" text-anchor="end" fill="#000" >20</text>
<text x="1390" y="561.21" font-size="16.8" text-anchor="end" fill="#000" >22</text>
<text x="1655.45" y="1022.5" font-size="21" text-anchor="middle">Scan Rate / V s<tspan font-size="14" dy="-9">-1</tspan></text>
<text transform="translate(1362 758.5) rotate(-90)" font-size="21" text-anchor="middle">PCE / %</text>
<polyline points="1729,576.5 1773,576.5" fill="none" stroke="#EE6B50" stroke-width="1.9" stroke-linejoin="round" />
<circle cx="1751" cy="576.5" r="3.9" fill="#fff" stroke="#EE6B50" stroke-width="2.1"/>
<text x="1778" y="582.3" font-size="19" text-anchor="start" fill="#000" >Cl-Doped (F)</text>
<polyline points="1729,600 1773,600" fill="none" stroke="#C4321E" stroke-width="1.9" stroke-linejoin="round" />
<circle cx="1751" cy="600" r="3.9" fill="#fff" stroke="#C4321E" stroke-width="2.1"/>
<text x="1778" y="605.8" font-size="19" text-anchor="start" fill="#000" >Cl-Doped (R)</text>
<polyline points="1729,623.5 1773,623.5" fill="none" stroke="#8E8EB6" stroke-width="1.9" stroke-linejoin="round" />
<circle cx="1751" cy="623.5" r="3.9" fill="#fff" stroke="#8E8EB6" stroke-width="2.1"/>
<text x="1778" y="629.3" font-size="19" text-anchor="start" fill="#000" >Control (F)</text>
<polyline points="1729,647 1773,647" fill="none" stroke="#3E3E78" stroke-width="1.9" stroke-linejoin="round" />
<circle cx="1751" cy="647" r="3.9" fill="#fff" stroke="#3E3E78" stroke-width="2.1"/>
<text x="1778" y="652.8" font-size="19" text-anchor="start" fill="#000" >Control (R)</text>
<text x="1437" y="667" font-size="18.9" text-anchor="start" fill="#C4321E" >Ionic PCE Loss: 1.41%</text>
<text x="1432" y="921" font-size="18.9" text-anchor="start" fill="#50508e" >Ionic PCE Loss: 1.54%</text>
<rect x="95.6" y="1091.4" width="851.8" height="405.3" fill="none" stroke="#111" stroke-width="1.8"/>
<path d="M128.36 1496.7v8 M259.41 1496.7v8 M390.45 1496.7v8 M521.5 1496.7v8 M652.55 1496.7v8 M783.59 1496.7v8 M914.64 1496.7v8 M193.88 1496.7v4 M324.93 1496.7v4 M455.98 1496.7v4 M587.02 1496.7v4 M718.07 1496.7v4 M849.12 1496.7v4" stroke="#111" stroke-width="1.7" fill="none"/>
<text x="128.36" y="1523.7" font-size="16.8" text-anchor="middle" fill="#000" >0</text>
<text x="259.41" y="1523.7" font-size="16.8" text-anchor="middle" fill="#000" >20</text>
<text x="390.45" y="1523.7" font-size="16.8" text-anchor="middle" fill="#000" >40</text>
<text x="521.5" y="1523.7" font-size="16.8" text-anchor="middle" fill="#000" >60</text>
<text x="652.55" y="1523.7" font-size="16.8" text-anchor="middle" fill="#000" >80</text>
<text x="783.59" y="1523.7" font-size="16.8" text-anchor="middle" fill="#000" >100</text>
<text x="914.64" y="1523.7" font-size="16.8" text-anchor="middle" fill="#000" >120</text>
<path d="M95.6 1496.7h-8 M95.6 1446.04h-8 M95.6 1395.38h-8 M95.6 1344.71h-8 M95.6 1294.05h-8 M95.6 1243.39h-8 M95.6 1192.73h-8 M95.6 1142.06h-8 M95.6 1091.4h-8 M95.6 1471.37h-4 M95.6 1420.71h-4 M95.6 1370.04h-4 M95.6 1319.38h-4 M95.6 1268.72h-4 M95.6 1218.06h-4 M95.6 1167.39h-4 M95.6 1116.73h-4" stroke="#111" stroke-width="1.7" fill="none"/>
<text x="81.6" y="1501.91" font-size="16.8" text-anchor="end" fill="#000" >0</text>
<text x="81.6" y="1451.25" font-size="16.8" text-anchor="end" fill="#000" >2</text>
<text x="81.6" y="1400.58" font-size="16.8" text-anchor="end" fill="#000" >4</text>
<text x="81.6" y="1349.92" font-size="16.8" text-anchor="end" fill="#000" >6</text>
<text x="81.6" y="1299.26" font-size="16.8" text-anchor="end" fill="#000" >8</text>
<text x="81.6" y="1248.6" font-size="16.8" text-anchor="end" fill="#000" >10</text>
<text x="81.6" y="1197.93" font-size="16.8" text-anchor="end" fill="#000" >12</text>
<text x="81.6" y="1147.27" font-size="16.8" text-anchor="end" fill="#000" >14</text>
<text x="81.6" y="1096.61" font-size="16.8" text-anchor="end" fill="#000" >16</text>
<text x="521.5" y="1556" font-size="21" text-anchor="middle" fill="#000" >Time / min</text>
<text transform="translate(50.5 1294.05) rotate(-90)" font-size="21" text-anchor="middle">Ionic Loss (1-PCE<tspan font-size="14" dy="5">slow</tspan><tspan dy="-5">/PCE</tspan><tspan font-size="14" dy="5">fast</tspan><tspan dy="-5">) / %</tspan></text>
<polyline points="128.36,1283.41 324.93,1266.19 521.5,1234.52 652.55,1200.32 914.64,1185.89" fill="none" stroke="#58589E" stroke-width="2.5" stroke-linejoin="round" />
<circle cx="128.36" cy="1283.41" r="6.4" fill="#fff" stroke="#58589E" stroke-width="3.6"/>
<circle cx="324.93" cy="1266.19" r="6.4" fill="#fff" stroke="#58589E" stroke-width="3.6"/>
<circle cx="521.5" cy="1234.52" r="6.4" fill="#fff" stroke="#58589E" stroke-width="3.6"/>
<circle cx="652.55" cy="1200.32" r="6.4" fill="#fff" stroke="#58589E" stroke-width="3.6"/>
<circle cx="914.64" cy="1185.89" r="6.4" fill="#fff" stroke="#58589E" stroke-width="3.6"/>
<polyline points="128.36,1319.38 324.93,1320.65 521.5,1323.18 652.55,1316.85 914.64,1320.65" fill="none" stroke="#E4532F" stroke-width="2.5" stroke-linejoin="round" />
<circle cx="128.36" cy="1319.38" r="6.4" fill="#fff" stroke="#E4532F" stroke-width="3.6"/>
<circle cx="324.93" cy="1320.65" r="6.4" fill="#fff" stroke="#E4532F" stroke-width="3.6"/>
<circle cx="521.5" cy="1323.18" r="6.4" fill="#fff" stroke="#E4532F" stroke-width="3.6"/>
<circle cx="652.55" cy="1316.85" r="6.4" fill="#fff" stroke="#E4532F" stroke-width="3.6"/>
<circle cx="914.64" cy="1320.65" r="6.4" fill="#fff" stroke="#E4532F" stroke-width="3.6"/>
<polyline points="164,1130 212,1130" fill="none" stroke="#E4532F" stroke-width="2.5" stroke-linejoin="round" />
<circle cx="188" cy="1130" r="6.4" fill="#fff" stroke="#E4532F" stroke-width="3.6"/>
<text x="218" y="1137" font-size="21" text-anchor="start" fill="#000" >Cl-Doped</text>
<polyline points="164,1156 212,1156" fill="none" stroke="#58589E" stroke-width="2.5" stroke-linejoin="round" />
<circle cx="188" cy="1156" r="6.4" fill="#fff" stroke="#58589E" stroke-width="3.6"/>
<text x="218" y="1163" font-size="21" text-anchor="start" fill="#000" >Control</text>
<path d="M1054.0 1202.35H1906.5" stroke="#999" stroke-width="1.2"/>
<polyline points="1054,1129.12 1055.28,1129.1 1056.56,1130.55 1057.84,1130.67 1059.12,1131.87 1060.39,1132.59 1061.67,1132.03 1062.95,1132.96 1064.23,1132.95 1065.51,1134.9 1066.79,1135.42 1068.07,1136.08 1069.35,1136.71 1070.62,1136.81 1071.9,1137.98 1073.18,1136.95 1074.46,1137.99 1075.74,1137.41 1077.02,1136.02 1078.3,1137.58 1079.58,1137.76 1080.85,1137.41 1082.13,1137.73 1083.41,1138.59 1084.69,1142.09 1085.97,1139.39 1087.25,1140.17 1088.53,1139.7 1089.81,1140.49 1091.08,1140.58 1092.36,1141.26 1093.64,1142.18 1094.92,1142.4 1096.2,1142.61 1097.48,1142.82 1098.76,1143.12 1100.04,1142.96 1101.31,1143.63 1102.59,1143.32 1103.87,1143.49 1105.15,1144.95 1106.43,1144.66 1107.71,1143.37 1108.99,1144.14 1110.27,1139.94 1111.54,1144.06 1112.82,1144.33 1114.1,1144.62 1115.38,1145.33 1116.66,1144.62 1117.94,1145.15 1119.22,1145.74 1120.49,1145.91 1121.77,1145.76 1123.05,1145.99 1124.33,1146.07 1125.61,1147.24 1126.89,1146.79 1128.17,1146.97 1129.45,1147.31 1130.72,1148.27 1132,1147.89 1133.28,1149.45 1134.56,1148.83 1135.84,1149.61 1137.12,1149.15 1138.4,1149.19 1139.68,1148.65 1140.95,1150.07 1142.23,1149.8 1143.51,1151.33 1144.79,1150.57 1146.07,1150.9 1147.35,1150.59 1148.63,1150.34 1149.91,1151.27 1151.18,1151.5 1152.46,1151.15 1153.74,1151.42 1155.02,1151.61 1156.3,1151.36 1157.58,1151.7 1158.86,1151.37 1160.14,1152.43 1161.41,1152.37 1162.69,1152.23 1163.97,1151.84 1165.25,1153.45 1166.53,1152.09 1167.81,1152.8 1169.09,1152.8 1170.37,1153.01 1171.64,1153.55 1172.92,1153.13 1174.2,1153.92 1175.48,1153.43 1176.76,1154.06 1178.04,1153.83 1179.32,1153.7 1180.6,1154.09 1181.88,1155.13 1183.15,1154.27 1184.43,1154.92 1185.71,1155.02 1186.99,1154.37 1188.27,1155.22 1189.55,1155.17 1190.83,1154.7 1192.11,1155.39 1193.38,1155.36 1194.66,1155.75 1195.94,1155.74 1197.22,1155.98 1198.5,1156.15 1199.78,1155.64 1201.06,1155.53 1202.34,1156.09 1203.61,1155.16 1204.89,1155.02 1206.17,1155.71 1207.45,1155.27 1208.73,1154.61 1210.01,1155.63 1211.29,1154.77 1212.57,1155.56 1213.84,1155.2 1215.12,1155.25 1216.4,1156.21 1217.68,1155.05 1218.96,1155.17 1220.24,1155.29 1221.52,1155.45 1222.8,1155.79 1224.07,1156.39 1225.35,1155.59 1226.63,1154.98 1227.91,1157.28 1229.19,1155.83 1230.47,1155.96 1231.75,1156.27 1233.03,1156.49 1234.3,1155.95 1235.58,1155.85 1236.86,1156.53 1238.14,1156.53 1239.42,1157.21 1240.7,1156.27 1241.98,1156.61 1243.26,1157.04 1244.53,1157.19 1245.81,1158.01 1247.09,1156.58 1248.37,1157.87 1249.65,1158.08 1250.93,1158.4 1252.21,1157.91 1253.49,1158.26 1254.76,1157.71 1256.04,1159.39 1257.32,1158.99 1258.6,1157.98 1259.88,1159.01 1261.16,1159.93 1262.44,1158.83 1263.71,1159.22 1264.99,1159.79 1266.27,1159.64 1267.55,1159.57 1268.83,1159.58 1270.11,1158.97 1271.39,1160 1272.67,1160.03 1273.94,1159.94 1275.22,1159.43 1276.5,1159.59 1277.78,1160.08 1279.06,1159.69 1280.34,1160.53 1281.62,1160.11 1282.9,1160.26 1284.17,1159.79 1285.45,1160.94 1286.73,1161.05 1288.01,1160.97 1289.29,1161 1290.57,1162.22 1291.85,1162.11 1293.13,1162.86 1294.4,1163.04 1295.68,1163.35 1296.96,1163.59 1298.24,1163.98 1299.52,1164.52 1300.8,1164.32 1302.08,1164.29 1303.36,1165 1304.63,1163.97 1305.91,1164.92 1307.19,1164.8 1308.47,1164.68 1309.75,1164.94 1311.03,1164.98 1312.31,1165.14 1313.59,1164.87 1314.87,1164.95 1316.14,1164.61 1317.42,1165.27 1318.7,1165.73 1319.98,1166.66 1321.26,1165.4 1322.54,1165.75 1323.82,1165.46 1325.1,1166.55 1326.37,1166.47 1327.65,1166.59 1328.93,1167.14 1330.21,1166.26 1331.49,1167.47 1332.77,1166.85 1334.05,1167.79 1335.33,1167.47 1336.6,1167.72 1337.88,1168.43 1339.16,1168.01 1340.44,1168.91 1341.72,1169.07 1343,1169.36 1344.28,1168.88 1345.56,1169.22 1346.83,1169.31 1348.11,1169.56 1349.39,1169.04 1350.67,1168.79 1351.95,1169.08 1353.23,1169.1 1354.51,1170.43 1355.78,1170.01 1357.06,1169.95 1358.34,1169.87 1359.62,1170.34 1360.9,1169.5 1362.18,1169.26 1363.46,1170.62 1364.74,1170.39 1366.01,1170.28 1367.29,1170.16 1368.57,1169.77 1369.85,1170.04 1371.13,1170.33 1372.41,1170.63 1373.69,1170.72 1374.97,1170.45 1376.24,1171.49 1377.52,1171.22 1378.8,1171.9 1380.08,1171.35 1381.36,1171.93 1382.64,1171.76 1383.92,1172.54 1385.2,1172.82 1386.47,1173.33 1387.75,1172.76 1389.03,1173.15 1390.31,1173.48 1391.59,1173.98 1392.87,1173.6 1394.15,1173.03 1395.43,1173.65 1396.7,1174.1 1397.98,1173.72 1399.26,1173.71 1400.54,1173.22 1401.82,1174.05 1403.1,1173.7 1404.38,1173.79 1405.66,1173.93 1406.93,1174.17 1408.21,1174.25 1409.49,1174.13 1410.77,1173.59 1412.05,1174.38 1413.33,1173.37 1414.61,1174.13 1415.89,1173.43 1417.16,1173.86 1418.44,1175.16 1419.72,1174.28 1421,1173.71 1422.28,1173.88 1423.56,1174.07 1424.84,1174.95 1426.12,1174.74 1427.39,1175.48 1428.67,1175.7 1429.95,1175.22 1431.23,1175.66 1432.51,1176.09 1433.79,1175.64 1435.07,1175.63 1436.35,1176.26 1437.62,1176.18 1438.9,1176.5 1440.18,1175.86 1441.46,1176.64 1442.74,1173.66 1444.02,1177.17 1445.3,1176.2 1446.58,1176.35 1447.86,1176.97 1449.13,1177.26 1450.41,1177.11 1451.69,1176.81 1452.97,1176.8 1454.25,1177.08 1455.53,1177.51 1456.81,1177.54 1458.09,1177.09 1459.36,1176.29 1460.64,1176.74 1461.92,1177.2 1463.2,1176.81 1464.48,1177.48 1465.76,1177.18 1467.04,1177.47 1468.32,1178.06 1469.59,1177.36 1470.87,1177.2 1472.15,1177.37 1473.43,1177.79 1474.71,1176.92 1475.99,1177.38 1477.27,1177.46 1478.55,1177.42 1479.82,1177.61 1481.1,1177.32 1482.38,1178.74 1483.66,1178.66 1484.94,1178.31 1486.22,1178.56 1487.5,1179.18 1488.78,1179.41 1490.05,1178.93 1491.33,1180.15 1492.61,1179.88 1493.89,1179.97 1495.17,1179.97 1496.45,1180.03 1497.73,1180.07 1499.01,1181.36 1500.28,1180.93 1501.56,1180.09 1502.84,1180.54 1504.12,1180.27 1505.4,1180.61 1506.68,1181.15 1507.96,1181.19 1509.24,1181.01 1510.51,1180.73 1511.79,1181.02 1513.07,1181.52 1514.35,1181.34 1515.63,1181.57 1516.91,1181.39 1518.19,1182.1 1519.47,1181.61 1520.74,1181.94 1522.02,1180.36 1523.3,1181.95 1524.58,1181.45 1525.86,1182.04 1527.14,1180.85 1528.42,1180.73 1529.7,1181.18 1530.97,1181.08 1532.25,1181.21 1533.53,1181.41 1534.81,1181.86 1536.09,1182.03 1537.37,1182 1538.65,1181.31 1539.92,1181.26 1541.2,1181.32 1542.48,1181.66 1543.76,1182.22 1545.04,1181.79 1546.32,1181.57 1547.6,1182.71 1548.88,1182.27 1550.15,1181.38 1551.43,1182.86 1552.71,1181.83 1553.99,1182.55 1555.27,1181.76 1556.55,1182.87 1557.83,1183.06 1559.11,1182.84 1560.38,1182.9 1561.66,1182.94 1562.94,1182.9 1564.22,1183.87 1565.5,1183.08 1566.78,1183.07 1568.06,1184.11 1569.34,1183.65 1570.62,1183.92 1571.89,1187.86 1573.17,1183.56 1574.45,1183.79 1575.73,1184.55 1577.01,1184.09 1578.29,1184.02 1579.57,1184.64 1580.85,1184.28 1582.12,1184.64 1583.4,1185.16 1584.68,1184.88 1585.96,1184.97 1587.24,1184.57 1588.52,1185.7 1589.8,1184.97 1591.08,1184.86 1592.35,1185.03 1593.63,1185.09 1594.91,1186.06 1596.19,1185.67 1597.47,1186 1598.75,1184.42 1600.03,1185.79 1601.31,1186.25 1602.58,1186.32 1603.86,1186.29 1605.14,1185.88 1606.42,1186.37 1607.7,1186.16 1608.98,1186.08 1610.26,1187 1611.53,1186.92 1612.81,1187.37 1614.09,1187.7 1615.37,1188.22 1616.65,1187.48 1617.93,1188.49 1619.21,1188.05 1620.49,1188.18 1621.76,1188.16 1623.04,1188.99 1624.32,1188.87 1625.6,1189.97 1626.88,1189.42 1628.16,1189.5 1629.44,1188.96 1630.72,1190 1631.99,1189.67 1633.27,1190.17 1634.55,1190.03 1635.83,1190.26 1637.11,1190.41 1638.39,1191.38 1639.67,1190.53 1640.95,1191.47 1642.22,1190.86 1643.5,1190.91 1644.78,1191.79 1646.06,1192.59 1647.34,1192.12 1648.62,1192.28 1649.9,1192.84 1651.18,1192.7 1652.45,1192.86 1653.73,1192.31 1655.01,1192.22 1656.29,1192.28 1657.57,1193.48 1658.85,1193.44 1660.13,1193.22 1661.41,1194.17 1662.68,1194 1663.96,1193.01 1665.24,1193.95 1666.52,1194.49 1667.8,1194.12 1669.08,1194.49 1670.36,1194.91 1671.64,1195.19 1672.91,1195.46 1674.19,1194.79 1675.47,1195.19 1676.75,1195.04 1678.03,1195.92 1679.31,1195.95 1680.59,1196.35 1681.87,1196.32 1683.14,1196.43 1684.42,1196.69 1685.7,1197.08 1686.98,1196.71 1688.26,1196.92 1689.54,1197.85 1690.82,1196.82 1692.1,1198.18 1693.38,1198.48 1694.65,1198.15 1695.93,1198.79 1697.21,1197.63 1698.49,1198.29 1699.77,1199.19 1701.05,1198.36 1702.33,1198.85 1703.61,1198.24 1704.88,1198.35 1706.16,1198.16 1707.44,1198.7 1708.72,1199.18 1710,1198.72 1711.28,1198.27 1712.56,1199.97 1713.84,1200.17 1715.11,1199.2 1716.39,1200.56 1717.67,1200.19 1718.95,1199.52 1720.23,1203.46 1721.51,1199.86 1722.79,1200.2 1724.07,1200.59 1725.34,1200.51 1726.62,1200.74 1727.9,1200.23 1729.18,1200.32 1730.46,1200.31 1731.74,1200.76 1733.02,1200.29 1734.3,1201.59 1735.57,1200.57 1736.85,1201.95 1738.13,1202.14 1739.41,1201.66 1740.69,1200.81 1741.97,1202.3 1743.25,1201.38 1744.53,1203.07 1745.8,1201.97 1747.08,1202.45 1748.36,1203.12 1749.64,1202.3 1750.92,1202.46 1752.2,1203.42 1753.48,1203.19 1754.76,1203.53 1756.03,1203.48 1757.31,1203.35 1758.59,1203.87 1759.87,1204.08 1761.15,1204.39 1762.43,1199.8 1763.71,1203.72 1764.99,1204.49 1766.26,1204.45 1767.54,1204.12 1768.82,1203.87 1770.1,1204.06 1771.38,1203.93 1772.66,1204.82 1773.94,1204.9 1775.22,1204.26 1776.49,1204.76 1777.77,1205.26 1779.05,1205.23 1780.33,1206.17 1781.61,1206.37 1782.89,1206.14 1784.17,1206.03 1785.44,1205.97 1786.72,1206.27 1788,1205.94 1789.28,1206.3 1790.56,1206.33 1791.84,1206.35 1793.12,1205.78 1794.4,1206.17 1795.67,1206.89 1796.95,1206.89 1798.23,1206.74 1799.51,1207.55 1800.79,1206.5 1802.07,1206.3 1803.35,1207.06 1804.63,1207.15 1805.9,1206.83 1807.18,1207.86 1808.46,1207.91 1809.74,1207.33 1811.02,1207.39 1812.3,1206.94 1813.58,1207.9 1814.86,1207.48 1816.13,1207.97 1817.41,1208.78 1818.69,1207.98 1819.97,1207.99 1821.25,1207.88 1822.53,1207.98 1823.81,1207.57 1825.09,1207.8 1826.37,1207.51 1827.64,1208.35 1828.92,1208.58 1830.2,1208.61 1831.48,1208.59 1832.76,1208.4 1834.04,1207.61 1835.32,1208.95 1836.6,1209.92 1837.87,1209.48 1839.15,1208.03 1840.43,1209.36 1841.71,1208.28 1842.99,1209.81 1844.27,1208.63 1845.55,1209 1846.83,1209.03 1848.1,1209.74 1849.38,1209.3 1850.66,1209.89 1851.94,1209.24 1853.22,1209.05 1854.5,1209.24 1855.78,1209.54 1857.05,1210.43 1858.33,1209.86 1859.61,1210.01 1860.89,1210.14 1862.17,1210.06 1863.45,1210.78 1864.73,1209.96 1866.01,1210.33 1867.28,1211.03 1868.56,1210 1869.84,1209.85 1871.12,1210.85 1872.4,1210.74 1873.68,1210.5 1874.96,1210.46 1876.24,1210.2 1877.51,1211.26 1878.79,1210.83 1880.07,1211.48 1881.35,1210.26 1882.63,1211.18 1883.91,1210.94 1885.19,1210.74 1886.47,1210.89 1887.74,1210.78 1889.02,1211.86 1890.3,1211.28 1891.58,1212.12 1892.86,1211.11 1894.14,1211.97 1895.42,1211.51 1896.7,1212.06 1897.97,1211.63 1899.25,1211.98 1900.53,1211.5 1901.81,1212.04 1903.09,1211.69 1904.37,1212.15 1905.65,1212.2" fill="none" stroke="#E4532F" stroke-width="3.3" stroke-linejoin="round" />
<rect x="1054" y="1091.7" width="852.5" height="405.7" fill="none" stroke="#111" stroke-width="1.8"/>
<path d="M1054 1497.4v8 M1224.5 1497.4v8 M1395 1497.4v8 M1565.5 1497.4v8 M1736 1497.4v8 M1906.5 1497.4v8 M1139.25 1497.4v4 M1309.75 1497.4v4 M1480.25 1497.4v4 M1650.75 1497.4v4 M1821.25 1497.4v4" stroke="#111" stroke-width="1.7" fill="none"/>
<text x="1054" y="1524.4" font-size="16.8" text-anchor="middle" fill="#000" >0</text>
<text x="1224.5" y="1524.4" font-size="16.8" text-anchor="middle" fill="#000" >400</text>
<text x="1395" y="1524.4" font-size="16.8" text-anchor="middle" fill="#000" >800</text>
<text x="1565.5" y="1524.4" font-size="16.8" text-anchor="middle" fill="#000" >1200</text>
<text x="1736" y="1524.4" font-size="16.8" text-anchor="middle" fill="#000" >1600</text>
<text x="1906.5" y="1524.4" font-size="16.8" text-anchor="middle" fill="#000" >2000</text>
<path d="M1054 1497.4h-8 M1054 1423.64h-8 M1054 1349.87h-8 M1054 1276.11h-8 M1054 1202.35h-8 M1054 1128.58h-8 M1054 1460.52h-4 M1054 1386.75h-4 M1054 1312.99h-4 M1054 1239.23h-4 M1054 1165.46h-4" stroke="#111" stroke-width="1.7" fill="none"/>
<text x="1040" y="1502.61" font-size="16.8" text-anchor="end" fill="#000" >0</text>
<text x="1040" y="1428.84" font-size="16.8" text-anchor="end" fill="#000" >20</text>
<text x="1040" y="1355.08" font-size="16.8" text-anchor="end" fill="#000" >40</text>
<text x="1040" y="1281.32" font-size="16.8" text-anchor="end" fill="#000" >60</text>
<text x="1040" y="1207.55" font-size="16.8" text-anchor="end" fill="#000" >80</text>
<text x="1040" y="1133.79" font-size="16.8" text-anchor="end" fill="#000" >100</text>
<text x="1480.25" y="1556" font-size="21" text-anchor="middle" fill="#000" >Time / h</text>
<text transform="translate(1004 1294.55) rotate(-90)" font-size="21" text-anchor="middle">Normalized PCE / %</text>
<text x="1675" y="1243" font-size="21" font-weight="bold" fill="#E4532F">T<tspan font-size="15" dy="5">80</tspan><tspan dy="-5">= 1639 h</tspan></text>
<text x="1310" y="1449" font-size="21.2">Continuous MPP Tracking (1-Sun Full Spectrum LED, N<tspan font-size="14" dy="5">2</tspan><tspan dy="-5">)</tspan></text>
</svg></body></html>
